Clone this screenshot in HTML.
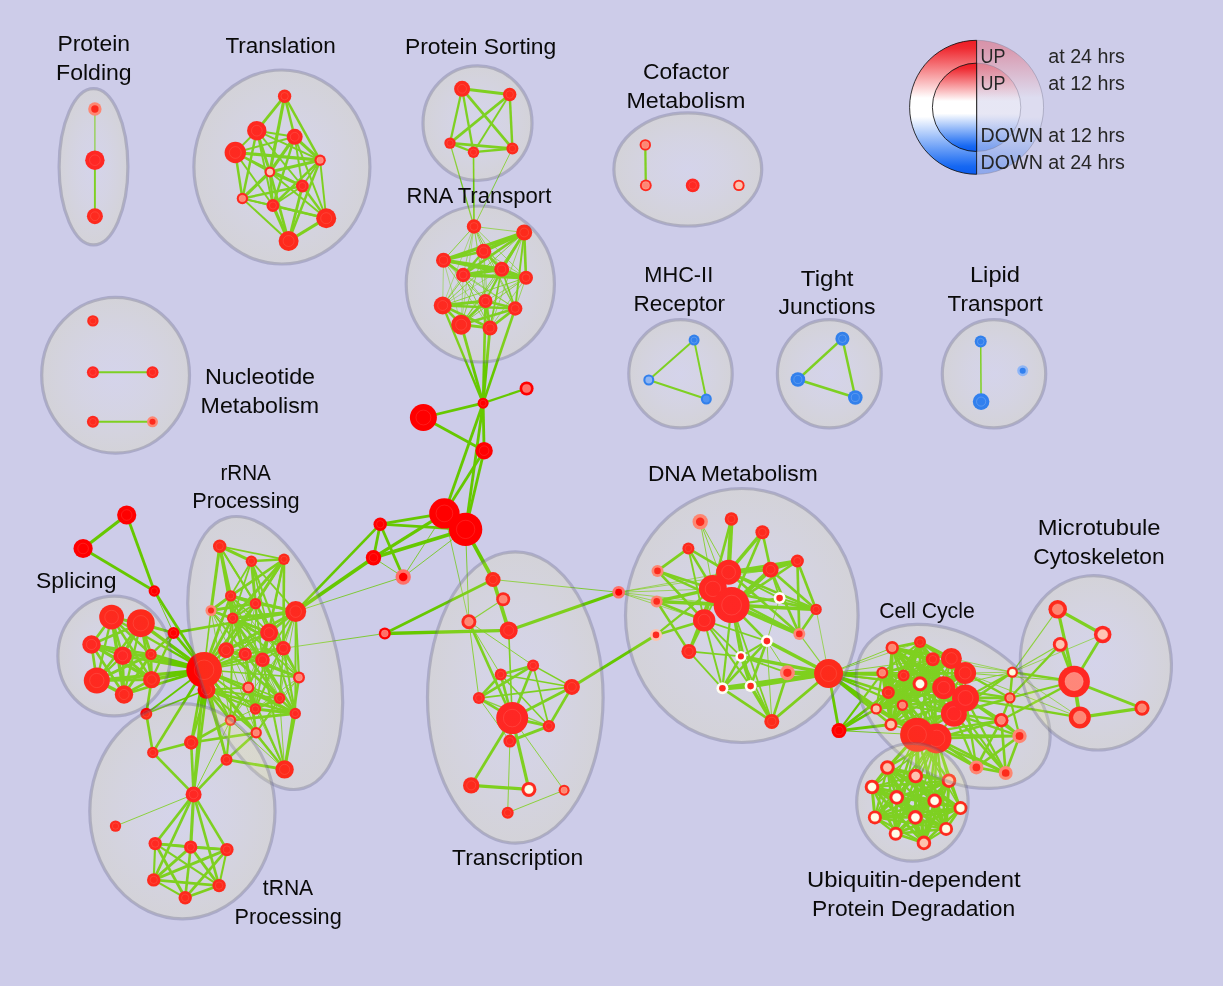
<!DOCTYPE html>
<html><head><meta charset="utf-8"><title>Enrichment map</title>
<style>html,body{margin:0;padding:0;background:#fff;}svg{display:block;font-family:"Liberation Sans",sans-serif;}</style></head><body>
<svg width="1223" height="989" viewBox="0 0 1223 989">
<defs>
<radialGradient id="eg" cx="50%" cy="50%" r="50%"><stop offset="0" stop-color="#fffff4" stop-opacity="0.15"/><stop offset="0.5" stop-color="#fafac8" stop-opacity="0.165"/><stop offset="1" stop-color="#f0f08c" stop-opacity="0.18"/></radialGradient>
<linearGradient id="lg" x1="0" y1="0" x2="0" y2="1"><stop offset="0" stop-color="#ee1c24"/><stop offset="0.06" stop-color="#ef2a31"/><stop offset="0.43" stop-color="#ffffff"/><stop offset="0.57" stop-color="#ffffff"/><stop offset="0.94" stop-color="#1668f2"/><stop offset="1" stop-color="#0a5cf0"/></linearGradient>
</defs>
<rect x="0" y="0" width="1223" height="986" fill="#cdcce9"/>
<g stroke="#66c800" stroke-linecap="butt" fill="none">
<line x1="94.9" y1="109.0" x2="94.9" y2="160.2" stroke-width="1.2" stroke-opacity="0.85"/>
<line x1="94.9" y1="160.2" x2="94.9" y2="216.2" stroke-width="1.94"/>
<line x1="284.6" y1="96.2" x2="256.8" y2="130.7" stroke-width="2.82"/>
<line x1="284.6" y1="96.2" x2="294.7" y2="136.8" stroke-width="2.46"/>
<line x1="284.6" y1="96.2" x2="269.9" y2="172.0" stroke-width="3.17"/>
<line x1="256.8" y1="130.7" x2="294.7" y2="136.8" stroke-width="1.94"/>
<line x1="256.8" y1="130.7" x2="235.3" y2="152.5" stroke-width="1.94"/>
<line x1="256.8" y1="130.7" x2="320.1" y2="160.2" stroke-width="1.94"/>
<line x1="256.8" y1="130.7" x2="269.9" y2="172.0" stroke-width="2.82"/>
<line x1="256.8" y1="130.7" x2="302.4" y2="186.0" stroke-width="1.94"/>
<line x1="256.8" y1="130.7" x2="242.4" y2="198.5" stroke-width="2.46"/>
<line x1="256.8" y1="130.7" x2="272.9" y2="205.5" stroke-width="1.94"/>
<line x1="294.7" y1="136.8" x2="235.3" y2="152.5" stroke-width="1.94"/>
<line x1="294.7" y1="136.8" x2="320.1" y2="160.2" stroke-width="3.17"/>
<line x1="294.7" y1="136.8" x2="269.9" y2="172.0" stroke-width="3.17"/>
<line x1="294.7" y1="136.8" x2="302.4" y2="186.0" stroke-width="1.94"/>
<line x1="294.7" y1="136.8" x2="272.9" y2="205.5" stroke-width="2.46"/>
<line x1="294.7" y1="136.8" x2="326.2" y2="218.2" stroke-width="1.94"/>
<line x1="235.3" y1="152.5" x2="320.1" y2="160.2" stroke-width="3.17"/>
<line x1="235.3" y1="152.5" x2="269.9" y2="172.0" stroke-width="1.94"/>
<line x1="235.3" y1="152.5" x2="302.4" y2="186.0" stroke-width="1.94"/>
<line x1="235.3" y1="152.5" x2="242.4" y2="198.5" stroke-width="2.46"/>
<line x1="235.3" y1="152.5" x2="272.9" y2="205.5" stroke-width="1.94"/>
<line x1="320.1" y1="160.2" x2="269.9" y2="172.0" stroke-width="3.17"/>
<line x1="320.1" y1="160.2" x2="302.4" y2="186.0" stroke-width="1.94"/>
<line x1="320.1" y1="160.2" x2="272.9" y2="205.5" stroke-width="2.46"/>
<line x1="320.1" y1="160.2" x2="326.2" y2="218.2" stroke-width="1.94"/>
<line x1="320.1" y1="160.2" x2="288.6" y2="241.0" stroke-width="2.46"/>
<line x1="269.9" y1="172.0" x2="302.4" y2="186.0" stroke-width="2.82"/>
<line x1="269.9" y1="172.0" x2="242.4" y2="198.5" stroke-width="3.17"/>
<line x1="269.9" y1="172.0" x2="272.9" y2="205.5" stroke-width="2.46"/>
<line x1="269.9" y1="172.0" x2="326.2" y2="218.2" stroke-width="1.94"/>
<line x1="269.9" y1="172.0" x2="288.6" y2="241.0" stroke-width="2.82"/>
<line x1="302.4" y1="186.0" x2="242.4" y2="198.5" stroke-width="2.46"/>
<line x1="302.4" y1="186.0" x2="272.9" y2="205.5" stroke-width="1.94"/>
<line x1="302.4" y1="186.0" x2="326.2" y2="218.2" stroke-width="2.46"/>
<line x1="302.4" y1="186.0" x2="288.6" y2="241.0" stroke-width="2.82"/>
<line x1="242.4" y1="198.5" x2="272.9" y2="205.5" stroke-width="1.94"/>
<line x1="242.4" y1="198.5" x2="326.2" y2="218.2" stroke-width="1.94"/>
<line x1="242.4" y1="198.5" x2="288.6" y2="241.0" stroke-width="1.94"/>
<line x1="272.9" y1="205.5" x2="326.2" y2="218.2" stroke-width="2.46"/>
<line x1="272.9" y1="205.5" x2="288.6" y2="241.0" stroke-width="3.17"/>
<line x1="326.2" y1="218.2" x2="288.6" y2="241.0" stroke-width="3.17"/>
<line x1="284.6" y1="96.2" x2="320.1" y2="160.2" stroke-width="2.46"/>
<line x1="462.1" y1="88.8" x2="509.7" y2="94.5" stroke-width="3.08"/>
<line x1="462.1" y1="88.8" x2="450.0" y2="143.1" stroke-width="2.29"/>
<line x1="462.1" y1="88.8" x2="473.5" y2="152.2" stroke-width="2.29"/>
<line x1="462.1" y1="88.8" x2="512.4" y2="148.5" stroke-width="2.82"/>
<line x1="509.7" y1="94.5" x2="450.0" y2="143.1" stroke-width="2.82"/>
<line x1="509.7" y1="94.5" x2="473.5" y2="152.2" stroke-width="1.94"/>
<line x1="509.7" y1="94.5" x2="512.4" y2="148.5" stroke-width="2.46"/>
<line x1="450.0" y1="143.1" x2="473.5" y2="152.2" stroke-width="2.29"/>
<line x1="450.0" y1="143.1" x2="512.4" y2="148.5" stroke-width="2.82"/>
<line x1="473.5" y1="152.2" x2="512.4" y2="148.5" stroke-width="2.29"/>
<line x1="450.0" y1="143.1" x2="474.0" y2="226.5" stroke-width="1.3" stroke-opacity="0.85"/>
<line x1="473.5" y1="152.2" x2="474.0" y2="226.5" stroke-width="1.6"/>
<line x1="512.4" y1="148.5" x2="474.0" y2="226.5" stroke-width="0.9" stroke-opacity="0.85"/>
<line x1="645.3" y1="144.9" x2="645.8" y2="185.4" stroke-width="2.29"/>
<line x1="474.0" y1="226.5" x2="524.2" y2="232.5" stroke-width="0.8" stroke-opacity="0.85"/>
<line x1="474.0" y1="226.5" x2="483.7" y2="251.2" stroke-width="0.8" stroke-opacity="0.85"/>
<line x1="474.0" y1="226.5" x2="443.5" y2="260.2" stroke-width="1.0" stroke-opacity="0.85"/>
<line x1="474.0" y1="226.5" x2="463.2" y2="275.0" stroke-width="0.8" stroke-opacity="0.85"/>
<line x1="474.0" y1="226.5" x2="501.7" y2="269.2" stroke-width="0.8" stroke-opacity="0.85"/>
<line x1="474.0" y1="226.5" x2="526.0" y2="277.7" stroke-width="0.8" stroke-opacity="0.85"/>
<line x1="474.0" y1="226.5" x2="442.7" y2="305.5" stroke-width="0.6" stroke-opacity="0.85"/>
<line x1="474.0" y1="226.5" x2="485.5" y2="301.0" stroke-width="0.6" stroke-opacity="0.85"/>
<line x1="474.0" y1="226.5" x2="515.2" y2="308.5" stroke-width="1.0" stroke-opacity="0.85"/>
<line x1="474.0" y1="226.5" x2="461.2" y2="324.7" stroke-width="0.6" stroke-opacity="0.85"/>
<line x1="474.0" y1="226.5" x2="490.0" y2="328.0" stroke-width="0.6" stroke-opacity="0.85"/>
<line x1="524.2" y1="232.5" x2="483.7" y2="251.2" stroke-width="3.52"/>
<line x1="524.2" y1="232.5" x2="443.5" y2="260.2" stroke-width="3.52"/>
<line x1="524.2" y1="232.5" x2="463.2" y2="275.0" stroke-width="2.64"/>
<line x1="524.2" y1="232.5" x2="501.7" y2="269.2" stroke-width="2.82"/>
<line x1="524.2" y1="232.5" x2="526.0" y2="277.7" stroke-width="2.64"/>
<line x1="524.2" y1="232.5" x2="442.7" y2="305.5" stroke-width="1.0" stroke-opacity="0.85"/>
<line x1="524.2" y1="232.5" x2="485.5" y2="301.0" stroke-width="0.8" stroke-opacity="0.85"/>
<line x1="524.2" y1="232.5" x2="515.2" y2="308.5" stroke-width="1.94"/>
<line x1="524.2" y1="232.5" x2="461.2" y2="324.7" stroke-width="1.0" stroke-opacity="0.85"/>
<line x1="524.2" y1="232.5" x2="490.0" y2="328.0" stroke-width="0.8" stroke-opacity="0.85"/>
<line x1="483.7" y1="251.2" x2="443.5" y2="260.2" stroke-width="2.64"/>
<line x1="483.7" y1="251.2" x2="463.2" y2="275.0" stroke-width="2.2"/>
<line x1="483.7" y1="251.2" x2="501.7" y2="269.2" stroke-width="2.64"/>
<line x1="483.7" y1="251.2" x2="526.0" y2="277.7" stroke-width="0.8" stroke-opacity="0.85"/>
<line x1="483.7" y1="251.2" x2="442.7" y2="305.5" stroke-width="1.0" stroke-opacity="0.85"/>
<line x1="483.7" y1="251.2" x2="485.5" y2="301.0" stroke-width="0.8" stroke-opacity="0.85"/>
<line x1="483.7" y1="251.2" x2="515.2" y2="308.5" stroke-width="0.8" stroke-opacity="0.85"/>
<line x1="483.7" y1="251.2" x2="461.2" y2="324.7" stroke-width="1.0" stroke-opacity="0.85"/>
<line x1="483.7" y1="251.2" x2="490.0" y2="328.0" stroke-width="0.6" stroke-opacity="0.85"/>
<line x1="443.5" y1="260.2" x2="463.2" y2="275.0" stroke-width="2.64"/>
<line x1="443.5" y1="260.2" x2="501.7" y2="269.2" stroke-width="3.52"/>
<line x1="443.5" y1="260.2" x2="526.0" y2="277.7" stroke-width="2.82"/>
<line x1="443.5" y1="260.2" x2="442.7" y2="305.5" stroke-width="0.6" stroke-opacity="0.85"/>
<line x1="443.5" y1="260.2" x2="485.5" y2="301.0" stroke-width="1.0" stroke-opacity="0.85"/>
<line x1="443.5" y1="260.2" x2="515.2" y2="308.5" stroke-width="0.8" stroke-opacity="0.85"/>
<line x1="443.5" y1="260.2" x2="461.2" y2="324.7" stroke-width="0.6" stroke-opacity="0.85"/>
<line x1="443.5" y1="260.2" x2="490.0" y2="328.0" stroke-width="0.8" stroke-opacity="0.85"/>
<line x1="463.2" y1="275.0" x2="501.7" y2="269.2" stroke-width="3.52"/>
<line x1="463.2" y1="275.0" x2="526.0" y2="277.7" stroke-width="3.52"/>
<line x1="463.2" y1="275.0" x2="442.7" y2="305.5" stroke-width="0.6" stroke-opacity="0.85"/>
<line x1="463.2" y1="275.0" x2="485.5" y2="301.0" stroke-width="0.8" stroke-opacity="0.85"/>
<line x1="463.2" y1="275.0" x2="515.2" y2="308.5" stroke-width="0.8" stroke-opacity="0.85"/>
<line x1="463.2" y1="275.0" x2="461.2" y2="324.7" stroke-width="0.6" stroke-opacity="0.85"/>
<line x1="463.2" y1="275.0" x2="490.0" y2="328.0" stroke-width="1.0" stroke-opacity="0.85"/>
<line x1="501.7" y1="269.2" x2="526.0" y2="277.7" stroke-width="2.64"/>
<line x1="501.7" y1="269.2" x2="442.7" y2="305.5" stroke-width="0.6" stroke-opacity="0.85"/>
<line x1="501.7" y1="269.2" x2="485.5" y2="301.0" stroke-width="1.94"/>
<line x1="501.7" y1="269.2" x2="515.2" y2="308.5" stroke-width="1.76"/>
<line x1="501.7" y1="269.2" x2="461.2" y2="324.7" stroke-width="1.0" stroke-opacity="0.85"/>
<line x1="501.7" y1="269.2" x2="490.0" y2="328.0" stroke-width="1.76"/>
<line x1="526.0" y1="277.7" x2="442.7" y2="305.5" stroke-width="1.0" stroke-opacity="0.85"/>
<line x1="526.0" y1="277.7" x2="485.5" y2="301.0" stroke-width="0.8" stroke-opacity="0.85"/>
<line x1="526.0" y1="277.7" x2="515.2" y2="308.5" stroke-width="0.8" stroke-opacity="0.85"/>
<line x1="526.0" y1="277.7" x2="461.2" y2="324.7" stroke-width="1.0" stroke-opacity="0.85"/>
<line x1="526.0" y1="277.7" x2="490.0" y2="328.0" stroke-width="0.8" stroke-opacity="0.85"/>
<line x1="442.7" y1="305.5" x2="485.5" y2="301.0" stroke-width="2.82"/>
<line x1="442.7" y1="305.5" x2="515.2" y2="308.5" stroke-width="2.64"/>
<line x1="442.7" y1="305.5" x2="461.2" y2="324.7" stroke-width="2.64"/>
<line x1="442.7" y1="305.5" x2="490.0" y2="328.0" stroke-width="2.64"/>
<line x1="485.5" y1="301.0" x2="515.2" y2="308.5" stroke-width="2.64"/>
<line x1="485.5" y1="301.0" x2="461.2" y2="324.7" stroke-width="2.64"/>
<line x1="485.5" y1="301.0" x2="490.0" y2="328.0" stroke-width="2.82"/>
<line x1="515.2" y1="308.5" x2="461.2" y2="324.7" stroke-width="2.64"/>
<line x1="515.2" y1="308.5" x2="490.0" y2="328.0" stroke-width="2.64"/>
<line x1="461.2" y1="324.7" x2="490.0" y2="328.0" stroke-width="2.82"/>
<line x1="483.1" y1="403.2" x2="442.7" y2="305.5" stroke-width="2.29"/>
<line x1="483.1" y1="403.2" x2="461.2" y2="324.7" stroke-width="2.82"/>
<line x1="483.1" y1="403.2" x2="490.0" y2="328.0" stroke-width="2.82"/>
<line x1="483.1" y1="403.2" x2="485.5" y2="301.0" stroke-width="2.64"/>
<line x1="483.1" y1="403.2" x2="515.2" y2="308.5" stroke-width="2.64"/>
<line x1="483.1" y1="403.2" x2="526.6" y2="388.5" stroke-width="2.29"/>
<line x1="483.1" y1="403.2" x2="423.4" y2="417.5" stroke-width="2.82"/>
<line x1="483.1" y1="403.2" x2="484.1" y2="450.7" stroke-width="2.82"/>
<line x1="483.1" y1="403.2" x2="444.4" y2="513.4" stroke-width="2.82"/>
<line x1="483.1" y1="403.2" x2="465.6" y2="529.4" stroke-width="2.82"/>
<line x1="423.4" y1="417.5" x2="484.1" y2="450.7" stroke-width="2.82"/>
<line x1="484.1" y1="450.7" x2="444.4" y2="513.4" stroke-width="2.82"/>
<line x1="484.1" y1="450.7" x2="465.6" y2="529.4" stroke-width="2.82"/>
<line x1="444.4" y1="513.4" x2="380.2" y2="524.2" stroke-width="2.82"/>
<line x1="465.6" y1="529.4" x2="380.2" y2="524.2" stroke-width="2.82"/>
<line x1="444.4" y1="513.4" x2="373.5" y2="557.7" stroke-width="3.17"/>
<line x1="465.6" y1="529.4" x2="373.5" y2="557.7" stroke-width="3.7"/>
<line x1="380.2" y1="524.2" x2="373.5" y2="557.7" stroke-width="2.82"/>
<line x1="380.2" y1="524.2" x2="403.2" y2="577.0" stroke-width="2.82"/>
<line x1="373.5" y1="557.7" x2="403.2" y2="577.0" stroke-width="0.9" stroke-opacity="0.85"/>
<line x1="403.2" y1="577.0" x2="444.4" y2="513.4" stroke-width="0.9" stroke-opacity="0.85"/>
<line x1="403.2" y1="577.0" x2="465.6" y2="529.4" stroke-width="0.9" stroke-opacity="0.85"/>
<line x1="380.2" y1="524.2" x2="295.7" y2="611.6" stroke-width="2.64"/>
<line x1="373.5" y1="557.7" x2="295.7" y2="611.6" stroke-width="3.7"/>
<line x1="403.2" y1="577.0" x2="295.7" y2="611.6" stroke-width="0.9" stroke-opacity="0.85"/>
<line x1="384.8" y1="633.5" x2="283.4" y2="648.3" stroke-width="0.9" stroke-opacity="0.85"/>
<line x1="384.8" y1="633.5" x2="493.0" y2="579.5" stroke-width="2.64"/>
<line x1="384.8" y1="633.5" x2="508.7" y2="630.4" stroke-width="3.34"/>
<line x1="465.6" y1="529.4" x2="493.0" y2="579.5" stroke-width="3.7"/>
<line x1="493.0" y1="579.5" x2="508.7" y2="630.4" stroke-width="3.7"/>
<line x1="465.6" y1="529.4" x2="468.9" y2="621.7" stroke-width="0.9" stroke-opacity="0.85"/>
<line x1="444.4" y1="513.4" x2="468.9" y2="621.7" stroke-width="0.8" stroke-opacity="0.85"/>
<line x1="493.0" y1="579.5" x2="618.7" y2="592.3" stroke-width="0.9" stroke-opacity="0.85"/>
<line x1="508.7" y1="630.4" x2="618.7" y2="592.3" stroke-width="3.17"/>
<line x1="503.2" y1="599.3" x2="468.9" y2="621.7" stroke-width="1.1" stroke-opacity="0.85"/>
<line x1="468.9" y1="621.7" x2="512.2" y2="718.1" stroke-width="2.64"/>
<line x1="468.9" y1="621.7" x2="478.9" y2="698.1" stroke-width="1" stroke-opacity="0.85"/>
<line x1="468.9" y1="621.7" x2="533.1" y2="665.4" stroke-width="1" stroke-opacity="0.85"/>
<line x1="468.9" y1="621.7" x2="500.7" y2="674.6" stroke-width="1" stroke-opacity="0.85"/>
<line x1="508.7" y1="630.4" x2="512.2" y2="718.1" stroke-width="1.6"/>
<line x1="533.1" y1="665.4" x2="500.7" y2="674.6" stroke-width="2.64"/>
<line x1="533.1" y1="665.4" x2="478.9" y2="698.1" stroke-width="2.64"/>
<line x1="533.1" y1="665.4" x2="512.2" y2="718.1" stroke-width="2.64"/>
<line x1="533.1" y1="665.4" x2="571.9" y2="686.9" stroke-width="1.6"/>
<line x1="533.1" y1="665.4" x2="548.9" y2="726.1" stroke-width="1.76"/>
<line x1="500.7" y1="674.6" x2="478.9" y2="698.1" stroke-width="2.64"/>
<line x1="500.7" y1="674.6" x2="512.2" y2="718.1" stroke-width="2.64"/>
<line x1="500.7" y1="674.6" x2="571.9" y2="686.9" stroke-width="1.5"/>
<line x1="500.7" y1="674.6" x2="548.9" y2="726.1" stroke-width="1.5"/>
<line x1="571.9" y1="686.9" x2="478.9" y2="698.1" stroke-width="1.76"/>
<line x1="571.9" y1="686.9" x2="512.2" y2="718.1" stroke-width="2.82"/>
<line x1="571.9" y1="686.9" x2="548.9" y2="726.1" stroke-width="2.82"/>
<line x1="478.9" y1="698.1" x2="512.2" y2="718.1" stroke-width="2.64"/>
<line x1="478.9" y1="698.1" x2="548.9" y2="726.1" stroke-width="1.3" stroke-opacity="0.85"/>
<line x1="512.2" y1="718.1" x2="548.9" y2="726.1" stroke-width="2.82"/>
<line x1="512.2" y1="718.1" x2="509.9" y2="741.1" stroke-width="2.64"/>
<line x1="548.9" y1="726.1" x2="509.9" y2="741.1" stroke-width="2.99"/>
<line x1="478.9" y1="698.1" x2="509.9" y2="741.1" stroke-width="1" stroke-opacity="0.85"/>
<line x1="571.9" y1="686.9" x2="656.0" y2="634.9" stroke-width="2.99"/>
<line x1="512.2" y1="718.1" x2="471.2" y2="785.4" stroke-width="2.82"/>
<line x1="509.9" y1="741.1" x2="507.7" y2="812.7" stroke-width="1" stroke-opacity="0.85"/>
<line x1="507.7" y1="812.7" x2="564.1" y2="790.2" stroke-width="1" stroke-opacity="0.85"/>
<line x1="512.2" y1="718.1" x2="564.1" y2="790.2" stroke-width="1" stroke-opacity="0.85"/>
<line x1="512.2" y1="718.1" x2="528.9" y2="789.4" stroke-width="3.17"/>
<line x1="471.2" y1="785.4" x2="528.9" y2="789.4" stroke-width="3.17"/>
<line x1="618.7" y1="592.3" x2="656.7" y2="601.4" stroke-width="0.8" stroke-opacity="0.85"/>
<line x1="618.7" y1="592.3" x2="712.9" y2="588.9" stroke-width="0.8" stroke-opacity="0.85"/>
<line x1="618.7" y1="592.3" x2="728.6" y2="572.2" stroke-width="0.8" stroke-opacity="0.85"/>
<line x1="618.7" y1="592.3" x2="731.6" y2="605.1" stroke-width="0.8" stroke-opacity="0.85"/>
<line x1="618.7" y1="592.3" x2="704.2" y2="620.4" stroke-width="0.8" stroke-opacity="0.85"/>
<line x1="618.7" y1="592.3" x2="770.6" y2="569.7" stroke-width="0.8" stroke-opacity="0.85"/>
<line x1="731.4" y1="519.0" x2="728.6" y2="572.2" stroke-width="4.4"/>
<line x1="762.4" y1="532.2" x2="728.6" y2="572.2" stroke-width="3.52"/>
<line x1="762.4" y1="532.2" x2="770.6" y2="569.7" stroke-width="2.64"/>
<line x1="797.4" y1="561.0" x2="770.6" y2="569.7" stroke-width="3.52"/>
<line x1="797.4" y1="561.0" x2="728.6" y2="572.2" stroke-width="3.52"/>
<line x1="770.6" y1="569.7" x2="728.6" y2="572.2" stroke-width="3.52"/>
<line x1="770.6" y1="569.7" x2="731.6" y2="605.1" stroke-width="4.4"/>
<line x1="797.4" y1="561.0" x2="816.1" y2="609.4" stroke-width="2.64"/>
<line x1="797.4" y1="561.0" x2="799.3" y2="633.9" stroke-width="2.64"/>
<line x1="770.6" y1="569.7" x2="816.1" y2="609.4" stroke-width="2.64"/>
<line x1="770.6" y1="569.7" x2="799.3" y2="633.9" stroke-width="2.64"/>
<line x1="731.6" y1="605.1" x2="816.1" y2="609.4" stroke-width="3.52"/>
<line x1="731.6" y1="605.1" x2="799.3" y2="633.9" stroke-width="4.4"/>
<line x1="712.9" y1="588.9" x2="816.1" y2="609.4" stroke-width="2.64"/>
<line x1="779.6" y1="598.1" x2="816.1" y2="609.4" stroke-width="1.76"/>
<line x1="688.4" y1="548.4" x2="728.6" y2="572.2" stroke-width="2.64"/>
<line x1="688.4" y1="548.4" x2="712.9" y2="588.9" stroke-width="2.64"/>
<line x1="688.4" y1="548.4" x2="657.5" y2="570.9" stroke-width="2.82"/>
<line x1="688.4" y1="548.4" x2="704.2" y2="620.4" stroke-width="1.94"/>
<line x1="657.5" y1="570.9" x2="712.9" y2="588.9" stroke-width="2.64"/>
<line x1="657.5" y1="570.9" x2="731.6" y2="605.1" stroke-width="2.64"/>
<line x1="657.5" y1="570.9" x2="704.2" y2="620.4" stroke-width="2.64"/>
<line x1="656.7" y1="601.4" x2="712.9" y2="588.9" stroke-width="3.52"/>
<line x1="656.7" y1="601.4" x2="731.6" y2="605.1" stroke-width="3.52"/>
<line x1="656.7" y1="601.4" x2="704.2" y2="620.4" stroke-width="2.64"/>
<line x1="656.7" y1="601.4" x2="688.9" y2="651.4" stroke-width="2.64"/>
<line x1="656.0" y1="634.9" x2="704.2" y2="620.4" stroke-width="2.64"/>
<line x1="656.0" y1="634.9" x2="712.9" y2="588.9" stroke-width="2.11"/>
<line x1="704.2" y1="620.4" x2="688.9" y2="651.4" stroke-width="2.82"/>
<line x1="731.6" y1="605.1" x2="766.9" y2="641.1" stroke-width="2.64"/>
<line x1="731.6" y1="605.1" x2="740.9" y2="656.4" stroke-width="2.2"/>
<line x1="700.2" y1="521.7" x2="728.6" y2="572.2" stroke-width="1" stroke-opacity="0.85"/>
<line x1="700.2" y1="521.7" x2="712.9" y2="588.9" stroke-width="1" stroke-opacity="0.85"/>
<line x1="700.2" y1="521.7" x2="731.6" y2="605.1" stroke-width="1" stroke-opacity="0.85"/>
<line x1="828.6" y1="673.5" x2="787.4" y2="672.8" stroke-width="4.4"/>
<line x1="828.6" y1="673.5" x2="766.9" y2="641.1" stroke-width="3.52"/>
<line x1="828.6" y1="673.5" x2="740.9" y2="656.4" stroke-width="3.52"/>
<line x1="828.6" y1="673.5" x2="750.6" y2="686.1" stroke-width="4.4"/>
<line x1="828.6" y1="673.5" x2="722.4" y2="688.3" stroke-width="4.4"/>
<line x1="828.6" y1="673.5" x2="799.3" y2="633.9" stroke-width="1.2" stroke-opacity="0.85"/>
<line x1="828.6" y1="673.5" x2="816.1" y2="609.4" stroke-width="0.8" stroke-opacity="0.85"/>
<line x1="828.6" y1="673.5" x2="771.8" y2="721.4" stroke-width="2.82"/>
<line x1="828.6" y1="673.5" x2="839.0" y2="730.6" stroke-width="2.82"/>
<line x1="722.4" y1="688.3" x2="750.6" y2="686.1" stroke-width="4.4"/>
<line x1="722.4" y1="688.3" x2="740.9" y2="656.4" stroke-width="2.64"/>
<line x1="722.4" y1="688.3" x2="766.9" y2="641.1" stroke-width="2.64"/>
<line x1="750.6" y1="686.1" x2="740.9" y2="656.4" stroke-width="2.64"/>
<line x1="750.6" y1="686.1" x2="766.9" y2="641.1" stroke-width="2.64"/>
<line x1="750.6" y1="686.1" x2="771.8" y2="721.4" stroke-width="3.52"/>
<line x1="722.4" y1="688.3" x2="771.8" y2="721.4" stroke-width="2.64"/>
<line x1="787.4" y1="672.8" x2="771.8" y2="721.4" stroke-width="2.64"/>
<line x1="688.9" y1="651.4" x2="722.4" y2="688.3" stroke-width="1.76"/>
<line x1="688.9" y1="651.4" x2="740.9" y2="656.4" stroke-width="1.76"/>
<line x1="704.2" y1="620.4" x2="722.4" y2="688.3" stroke-width="1.94"/>
<line x1="704.2" y1="620.4" x2="750.6" y2="686.1" stroke-width="1.94"/>
<line x1="704.2" y1="620.4" x2="740.9" y2="656.4" stroke-width="1.76"/>
<line x1="731.6" y1="605.1" x2="722.4" y2="688.3" stroke-width="2.2"/>
<line x1="731.6" y1="605.1" x2="750.6" y2="686.1" stroke-width="2.64"/>
<line x1="731.6" y1="605.1" x2="771.8" y2="721.4" stroke-width="1.76"/>
<line x1="728.6" y1="572.2" x2="816.1" y2="609.4" stroke-width="2.64"/>
<line x1="728.6" y1="572.2" x2="799.3" y2="633.9" stroke-width="2.64"/>
<line x1="712.9" y1="588.9" x2="799.3" y2="633.9" stroke-width="2.64"/>
<line x1="728.6" y1="572.2" x2="779.6" y2="598.1" stroke-width="1.76"/>
<line x1="731.6" y1="605.1" x2="779.6" y2="598.1" stroke-width="2.2"/>
<line x1="731.4" y1="519.0" x2="712.9" y2="588.9" stroke-width="2.64"/>
<line x1="762.4" y1="532.2" x2="731.6" y2="605.1" stroke-width="2.64"/>
<line x1="797.4" y1="561.0" x2="731.6" y2="605.1" stroke-width="2.64"/>
<line x1="712.9" y1="588.9" x2="688.9" y2="651.4" stroke-width="2.64"/>
<line x1="704.2" y1="620.4" x2="766.9" y2="641.1" stroke-width="1.76"/>
<line x1="779.6" y1="598.1" x2="766.9" y2="641.1" stroke-width="1" stroke-opacity="0.85"/>
<line x1="766.9" y1="641.1" x2="740.9" y2="656.4" stroke-width="2.2"/>
<line x1="740.9" y1="656.4" x2="787.4" y2="672.8" stroke-width="1.76"/>
<line x1="766.9" y1="641.1" x2="771.8" y2="721.4" stroke-width="1" stroke-opacity="0.85"/>
<line x1="740.9" y1="656.4" x2="771.8" y2="721.4" stroke-width="1.76"/>
<line x1="799.3" y1="633.9" x2="816.1" y2="609.4" stroke-width="2.64"/>
<line x1="770.6" y1="569.7" x2="779.6" y2="598.1" stroke-width="1.76"/>
<line x1="712.9" y1="588.9" x2="704.2" y2="620.4" stroke-width="2.64"/>
<line x1="728.6" y1="572.2" x2="704.2" y2="620.4" stroke-width="1.76"/>
<line x1="766.9" y1="641.1" x2="787.4" y2="672.8" stroke-width="1" stroke-opacity="0.85"/>
<line x1="828.6" y1="673.5" x2="892.2" y2="647.8" stroke-width="1" stroke-opacity="0.85"/>
<line x1="828.6" y1="673.5" x2="920.0" y2="642.1" stroke-width="0.8" stroke-opacity="0.85"/>
<line x1="828.6" y1="673.5" x2="882.3" y2="672.8" stroke-width="2.64"/>
<line x1="828.6" y1="673.5" x2="903.6" y2="675.4" stroke-width="2.64"/>
<line x1="828.6" y1="673.5" x2="888.3" y2="692.4" stroke-width="2.64"/>
<line x1="828.6" y1="673.5" x2="902.4" y2="705.3" stroke-width="2.2"/>
<line x1="828.6" y1="673.5" x2="876.2" y2="708.9" stroke-width="2.64"/>
<line x1="828.6" y1="673.5" x2="890.9" y2="724.5" stroke-width="2.64"/>
<line x1="828.6" y1="673.5" x2="932.8" y2="659.3" stroke-width="1" stroke-opacity="0.85"/>
<line x1="828.6" y1="673.5" x2="920.0" y2="683.8" stroke-width="2.2"/>
<line x1="828.6" y1="673.5" x2="943.7" y2="687.7" stroke-width="1.76"/>
<line x1="828.6" y1="673.5" x2="917.1" y2="734.7" stroke-width="2.64"/>
<line x1="839.0" y1="730.6" x2="876.2" y2="708.9" stroke-width="2.64"/>
<line x1="839.0" y1="730.6" x2="890.9" y2="724.5" stroke-width="2.82"/>
<line x1="839.0" y1="730.6" x2="917.1" y2="734.7" stroke-width="1" stroke-opacity="0.85"/>
<line x1="839.0" y1="730.6" x2="888.3" y2="692.4" stroke-width="2.64"/>
<line x1="839.0" y1="730.6" x2="882.3" y2="672.8" stroke-width="2.2"/>
<line x1="892.2" y1="647.8" x2="920.0" y2="642.1" stroke-width="2.82"/>
<line x1="892.2" y1="647.8" x2="932.8" y2="659.3" stroke-width="2.46"/>
<line x1="892.2" y1="647.8" x2="951.4" y2="658.4" stroke-width="2.82"/>
<line x1="892.2" y1="647.8" x2="965.1" y2="673.0" stroke-width="2.46"/>
<line x1="892.2" y1="647.8" x2="920.0" y2="683.8" stroke-width="2.11"/>
<line x1="892.2" y1="647.8" x2="943.7" y2="687.7" stroke-width="2.46"/>
<line x1="892.2" y1="647.8" x2="965.5" y2="697.9" stroke-width="2.99"/>
<line x1="892.2" y1="647.8" x2="888.3" y2="692.4" stroke-width="2.99"/>
<line x1="892.2" y1="647.8" x2="953.9" y2="713.8" stroke-width="2.99"/>
<line x1="892.2" y1="647.8" x2="890.9" y2="724.5" stroke-width="2.99"/>
<line x1="892.2" y1="647.8" x2="917.1" y2="734.7" stroke-width="2.11"/>
<line x1="892.2" y1="647.8" x2="936.5" y2="738.4" stroke-width="2.99"/>
<line x1="920.0" y1="642.1" x2="932.8" y2="659.3" stroke-width="2.82"/>
<line x1="920.0" y1="642.1" x2="951.4" y2="658.4" stroke-width="2.99"/>
<line x1="920.0" y1="642.1" x2="965.1" y2="673.0" stroke-width="2.46"/>
<line x1="920.0" y1="642.1" x2="882.3" y2="672.8" stroke-width="2.11"/>
<line x1="920.0" y1="642.1" x2="903.6" y2="675.4" stroke-width="2.99"/>
<line x1="920.0" y1="642.1" x2="920.0" y2="683.8" stroke-width="2.46"/>
<line x1="920.0" y1="642.1" x2="943.7" y2="687.7" stroke-width="2.99"/>
<line x1="920.0" y1="642.1" x2="965.5" y2="697.9" stroke-width="2.11"/>
<line x1="920.0" y1="642.1" x2="902.4" y2="705.3" stroke-width="2.46"/>
<line x1="920.0" y1="642.1" x2="876.2" y2="708.9" stroke-width="2.11"/>
<line x1="920.0" y1="642.1" x2="953.9" y2="713.8" stroke-width="1.8"/>
<line x1="920.0" y1="642.1" x2="890.9" y2="724.5" stroke-width="2.82"/>
<line x1="920.0" y1="642.1" x2="936.5" y2="738.4" stroke-width="2.46"/>
<line x1="932.8" y1="659.3" x2="965.1" y2="673.0" stroke-width="1.8"/>
<line x1="932.8" y1="659.3" x2="882.3" y2="672.8" stroke-width="2.11"/>
<line x1="932.8" y1="659.3" x2="903.6" y2="675.4" stroke-width="1.8"/>
<line x1="932.8" y1="659.3" x2="920.0" y2="683.8" stroke-width="2.99"/>
<line x1="932.8" y1="659.3" x2="943.7" y2="687.7" stroke-width="1.8"/>
<line x1="932.8" y1="659.3" x2="965.5" y2="697.9" stroke-width="2.46"/>
<line x1="932.8" y1="659.3" x2="888.3" y2="692.4" stroke-width="2.46"/>
<line x1="932.8" y1="659.3" x2="902.4" y2="705.3" stroke-width="2.46"/>
<line x1="932.8" y1="659.3" x2="953.9" y2="713.8" stroke-width="1.8"/>
<line x1="932.8" y1="659.3" x2="890.9" y2="724.5" stroke-width="2.46"/>
<line x1="932.8" y1="659.3" x2="917.1" y2="734.7" stroke-width="2.46"/>
<line x1="932.8" y1="659.3" x2="936.5" y2="738.4" stroke-width="2.82"/>
<line x1="951.4" y1="658.4" x2="965.1" y2="673.0" stroke-width="2.11"/>
<line x1="951.4" y1="658.4" x2="882.3" y2="672.8" stroke-width="1.8"/>
<line x1="951.4" y1="658.4" x2="903.6" y2="675.4" stroke-width="2.46"/>
<line x1="951.4" y1="658.4" x2="920.0" y2="683.8" stroke-width="2.82"/>
<line x1="951.4" y1="658.4" x2="943.7" y2="687.7" stroke-width="2.11"/>
<line x1="951.4" y1="658.4" x2="965.5" y2="697.9" stroke-width="2.99"/>
<line x1="951.4" y1="658.4" x2="888.3" y2="692.4" stroke-width="2.46"/>
<line x1="951.4" y1="658.4" x2="902.4" y2="705.3" stroke-width="2.11"/>
<line x1="951.4" y1="658.4" x2="876.2" y2="708.9" stroke-width="2.99"/>
<line x1="951.4" y1="658.4" x2="953.9" y2="713.8" stroke-width="2.46"/>
<line x1="951.4" y1="658.4" x2="890.9" y2="724.5" stroke-width="1.8"/>
<line x1="951.4" y1="658.4" x2="917.1" y2="734.7" stroke-width="1.8"/>
<line x1="965.1" y1="673.0" x2="882.3" y2="672.8" stroke-width="1.8"/>
<line x1="965.1" y1="673.0" x2="903.6" y2="675.4" stroke-width="1.8"/>
<line x1="965.1" y1="673.0" x2="920.0" y2="683.8" stroke-width="1.8"/>
<line x1="965.1" y1="673.0" x2="943.7" y2="687.7" stroke-width="2.99"/>
<line x1="965.1" y1="673.0" x2="965.5" y2="697.9" stroke-width="1.8"/>
<line x1="965.1" y1="673.0" x2="902.4" y2="705.3" stroke-width="2.46"/>
<line x1="965.1" y1="673.0" x2="876.2" y2="708.9" stroke-width="2.82"/>
<line x1="965.1" y1="673.0" x2="953.9" y2="713.8" stroke-width="1.8"/>
<line x1="965.1" y1="673.0" x2="890.9" y2="724.5" stroke-width="2.11"/>
<line x1="965.1" y1="673.0" x2="917.1" y2="734.7" stroke-width="2.11"/>
<line x1="882.3" y1="672.8" x2="903.6" y2="675.4" stroke-width="1.8"/>
<line x1="882.3" y1="672.8" x2="920.0" y2="683.8" stroke-width="2.46"/>
<line x1="882.3" y1="672.8" x2="943.7" y2="687.7" stroke-width="2.82"/>
<line x1="882.3" y1="672.8" x2="965.5" y2="697.9" stroke-width="2.11"/>
<line x1="882.3" y1="672.8" x2="888.3" y2="692.4" stroke-width="2.82"/>
<line x1="882.3" y1="672.8" x2="902.4" y2="705.3" stroke-width="2.82"/>
<line x1="882.3" y1="672.8" x2="876.2" y2="708.9" stroke-width="2.11"/>
<line x1="882.3" y1="672.8" x2="953.9" y2="713.8" stroke-width="1.8"/>
<line x1="882.3" y1="672.8" x2="890.9" y2="724.5" stroke-width="2.99"/>
<line x1="882.3" y1="672.8" x2="917.1" y2="734.7" stroke-width="2.82"/>
<line x1="882.3" y1="672.8" x2="936.5" y2="738.4" stroke-width="2.82"/>
<line x1="903.6" y1="675.4" x2="920.0" y2="683.8" stroke-width="2.99"/>
<line x1="903.6" y1="675.4" x2="943.7" y2="687.7" stroke-width="2.99"/>
<line x1="903.6" y1="675.4" x2="965.5" y2="697.9" stroke-width="2.99"/>
<line x1="903.6" y1="675.4" x2="902.4" y2="705.3" stroke-width="2.46"/>
<line x1="903.6" y1="675.4" x2="876.2" y2="708.9" stroke-width="2.99"/>
<line x1="903.6" y1="675.4" x2="953.9" y2="713.8" stroke-width="2.82"/>
<line x1="903.6" y1="675.4" x2="890.9" y2="724.5" stroke-width="2.46"/>
<line x1="903.6" y1="675.4" x2="917.1" y2="734.7" stroke-width="2.46"/>
<line x1="903.6" y1="675.4" x2="936.5" y2="738.4" stroke-width="2.46"/>
<line x1="920.0" y1="683.8" x2="943.7" y2="687.7" stroke-width="2.46"/>
<line x1="920.0" y1="683.8" x2="888.3" y2="692.4" stroke-width="2.46"/>
<line x1="920.0" y1="683.8" x2="902.4" y2="705.3" stroke-width="2.99"/>
<line x1="920.0" y1="683.8" x2="876.2" y2="708.9" stroke-width="2.46"/>
<line x1="920.0" y1="683.8" x2="890.9" y2="724.5" stroke-width="1.8"/>
<line x1="920.0" y1="683.8" x2="936.5" y2="738.4" stroke-width="1.8"/>
<line x1="943.7" y1="687.7" x2="965.5" y2="697.9" stroke-width="2.46"/>
<line x1="943.7" y1="687.7" x2="888.3" y2="692.4" stroke-width="1.8"/>
<line x1="943.7" y1="687.7" x2="876.2" y2="708.9" stroke-width="2.11"/>
<line x1="943.7" y1="687.7" x2="953.9" y2="713.8" stroke-width="2.82"/>
<line x1="965.5" y1="697.9" x2="888.3" y2="692.4" stroke-width="2.82"/>
<line x1="965.5" y1="697.9" x2="902.4" y2="705.3" stroke-width="1.8"/>
<line x1="965.5" y1="697.9" x2="876.2" y2="708.9" stroke-width="2.82"/>
<line x1="965.5" y1="697.9" x2="890.9" y2="724.5" stroke-width="2.11"/>
<line x1="965.5" y1="697.9" x2="917.1" y2="734.7" stroke-width="2.82"/>
<line x1="888.3" y1="692.4" x2="876.2" y2="708.9" stroke-width="1.8"/>
<line x1="888.3" y1="692.4" x2="953.9" y2="713.8" stroke-width="2.82"/>
<line x1="888.3" y1="692.4" x2="890.9" y2="724.5" stroke-width="2.46"/>
<line x1="888.3" y1="692.4" x2="917.1" y2="734.7" stroke-width="1.8"/>
<line x1="888.3" y1="692.4" x2="936.5" y2="738.4" stroke-width="2.99"/>
<line x1="902.4" y1="705.3" x2="876.2" y2="708.9" stroke-width="2.11"/>
<line x1="902.4" y1="705.3" x2="953.9" y2="713.8" stroke-width="2.11"/>
<line x1="902.4" y1="705.3" x2="890.9" y2="724.5" stroke-width="2.82"/>
<line x1="902.4" y1="705.3" x2="917.1" y2="734.7" stroke-width="2.11"/>
<line x1="902.4" y1="705.3" x2="936.5" y2="738.4" stroke-width="2.46"/>
<line x1="876.2" y1="708.9" x2="917.1" y2="734.7" stroke-width="2.46"/>
<line x1="876.2" y1="708.9" x2="936.5" y2="738.4" stroke-width="2.46"/>
<line x1="953.9" y1="713.8" x2="890.9" y2="724.5" stroke-width="2.46"/>
<line x1="953.9" y1="713.8" x2="917.1" y2="734.7" stroke-width="2.46"/>
<line x1="953.9" y1="713.8" x2="936.5" y2="738.4" stroke-width="2.11"/>
<line x1="890.9" y1="724.5" x2="936.5" y2="738.4" stroke-width="1.8"/>
<line x1="1012.4" y1="672.2" x2="951.4" y2="658.4" stroke-width="0.8" stroke-opacity="0.85"/>
<line x1="1012.4" y1="672.2" x2="965.1" y2="673.0" stroke-width="0.8" stroke-opacity="0.85"/>
<line x1="1012.4" y1="672.2" x2="943.7" y2="687.7" stroke-width="1" stroke-opacity="0.85"/>
<line x1="1012.4" y1="672.2" x2="965.5" y2="697.9" stroke-width="2.11"/>
<line x1="1012.4" y1="672.2" x2="953.9" y2="713.8" stroke-width="2.11"/>
<line x1="1012.4" y1="672.2" x2="917.1" y2="734.7" stroke-width="1" stroke-opacity="0.85"/>
<line x1="1012.4" y1="672.2" x2="932.8" y2="659.3" stroke-width="0.8" stroke-opacity="0.85"/>
<line x1="1009.9" y1="697.9" x2="965.1" y2="673.0" stroke-width="2.29"/>
<line x1="1009.9" y1="697.9" x2="965.5" y2="697.9" stroke-width="2.64"/>
<line x1="1009.9" y1="697.9" x2="953.9" y2="713.8" stroke-width="2.64"/>
<line x1="1009.9" y1="697.9" x2="943.7" y2="687.7" stroke-width="2.11"/>
<line x1="1001.3" y1="720.2" x2="965.5" y2="697.9" stroke-width="2.64"/>
<line x1="1001.3" y1="720.2" x2="953.9" y2="713.8" stroke-width="2.64"/>
<line x1="1001.3" y1="720.2" x2="917.1" y2="734.7" stroke-width="2.29"/>
<line x1="1001.3" y1="720.2" x2="936.5" y2="738.4" stroke-width="2.64"/>
<line x1="1019.5" y1="736.0" x2="953.9" y2="713.8" stroke-width="2.29"/>
<line x1="1019.5" y1="736.0" x2="917.1" y2="734.7" stroke-width="2.64"/>
<line x1="1019.5" y1="736.0" x2="936.5" y2="738.4" stroke-width="2.64"/>
<line x1="1019.5" y1="736.0" x2="965.5" y2="697.9" stroke-width="2.11"/>
<line x1="976.4" y1="767.4" x2="917.1" y2="734.7" stroke-width="2.64"/>
<line x1="976.4" y1="767.4" x2="936.5" y2="738.4" stroke-width="2.64"/>
<line x1="976.4" y1="767.4" x2="953.9" y2="713.8" stroke-width="2.29"/>
<line x1="976.4" y1="767.4" x2="965.5" y2="697.9" stroke-width="2.29"/>
<line x1="1005.7" y1="773.0" x2="936.5" y2="738.4" stroke-width="2.64"/>
<line x1="1005.7" y1="773.0" x2="953.9" y2="713.8" stroke-width="2.64"/>
<line x1="1005.7" y1="773.0" x2="965.5" y2="697.9" stroke-width="2.29"/>
<line x1="1005.7" y1="773.0" x2="917.1" y2="734.7" stroke-width="2.29"/>
<line x1="1005.7" y1="773.0" x2="943.7" y2="687.7" stroke-width="2.11"/>
<line x1="1012.4" y1="672.2" x2="1009.9" y2="697.9" stroke-width="2.46"/>
<line x1="1009.9" y1="697.9" x2="1001.3" y2="720.2" stroke-width="2.46"/>
<line x1="1001.3" y1="720.2" x2="1019.5" y2="736.0" stroke-width="2.64"/>
<line x1="1019.5" y1="736.0" x2="1005.7" y2="773.0" stroke-width="2.64"/>
<line x1="1019.5" y1="736.0" x2="976.4" y2="767.4" stroke-width="2.64"/>
<line x1="976.4" y1="767.4" x2="1005.7" y2="773.0" stroke-width="2.64"/>
<line x1="1001.3" y1="720.2" x2="1005.7" y2="773.0" stroke-width="2.64"/>
<line x1="1001.3" y1="720.2" x2="976.4" y2="767.4" stroke-width="2.64"/>
<line x1="1009.9" y1="697.9" x2="1019.5" y2="736.0" stroke-width="2.2"/>
<line x1="1057.7" y1="609.3" x2="1102.7" y2="634.5" stroke-width="3.17"/>
<line x1="1057.7" y1="609.3" x2="1074.1" y2="681.5" stroke-width="3.17"/>
<line x1="1060.2" y1="644.4" x2="1074.1" y2="681.5" stroke-width="3.17"/>
<line x1="1102.7" y1="634.5" x2="1074.1" y2="681.5" stroke-width="2.82"/>
<line x1="1074.1" y1="681.5" x2="1079.8" y2="717.4" stroke-width="3.7"/>
<line x1="1074.1" y1="681.5" x2="1142.0" y2="708.1" stroke-width="2.82"/>
<line x1="1079.8" y1="717.4" x2="1142.0" y2="708.1" stroke-width="3.17"/>
<line x1="1012.4" y1="672.2" x2="1057.7" y2="609.3" stroke-width="1.1" stroke-opacity="0.85"/>
<line x1="1012.4" y1="672.2" x2="1060.2" y2="644.4" stroke-width="1.1" stroke-opacity="0.85"/>
<line x1="1012.4" y1="672.2" x2="1102.7" y2="634.5" stroke-width="0.8" stroke-opacity="0.85"/>
<line x1="1012.4" y1="672.2" x2="1074.1" y2="681.5" stroke-width="2.29"/>
<line x1="1012.4" y1="672.2" x2="1079.8" y2="717.4" stroke-width="0.8" stroke-opacity="0.85"/>
<line x1="1009.9" y1="697.9" x2="1060.2" y2="644.4" stroke-width="2.29"/>
<line x1="1009.9" y1="697.9" x2="1074.1" y2="681.5" stroke-width="2.29"/>
<line x1="1001.3" y1="720.2" x2="1074.1" y2="681.5" stroke-width="2.29"/>
<line x1="965.5" y1="697.9" x2="1079.8" y2="717.4" stroke-width="2.29"/>
<line x1="965.1" y1="673.0" x2="1079.8" y2="717.4" stroke-width="0.9" stroke-opacity="0.85"/>
<line x1="965.1" y1="673.0" x2="1074.1" y2="681.5" stroke-width="1" stroke-opacity="0.85"/>
<line x1="887.4" y1="767.5" x2="915.7" y2="776.0" stroke-width="2.99"/>
<line x1="887.4" y1="767.5" x2="949.0" y2="780.7" stroke-width="2.64"/>
<line x1="887.4" y1="767.5" x2="872.0" y2="787.0" stroke-width="2.99"/>
<line x1="887.4" y1="767.5" x2="896.7" y2="797.4" stroke-width="2.64"/>
<line x1="887.4" y1="767.5" x2="934.6" y2="800.8" stroke-width="2.64"/>
<line x1="887.4" y1="767.5" x2="960.5" y2="808.1" stroke-width="2.99"/>
<line x1="887.4" y1="767.5" x2="874.9" y2="817.4" stroke-width="2.29"/>
<line x1="887.4" y1="767.5" x2="915.4" y2="817.4" stroke-width="2.99"/>
<line x1="887.4" y1="767.5" x2="946.1" y2="828.9" stroke-width="2.29"/>
<line x1="887.4" y1="767.5" x2="895.7" y2="833.7" stroke-width="2.29"/>
<line x1="887.4" y1="767.5" x2="923.9" y2="842.9" stroke-width="2.99"/>
<line x1="915.7" y1="776.0" x2="949.0" y2="780.7" stroke-width="2.64"/>
<line x1="915.7" y1="776.0" x2="872.0" y2="787.0" stroke-width="2.29"/>
<line x1="915.7" y1="776.0" x2="896.7" y2="797.4" stroke-width="2.99"/>
<line x1="915.7" y1="776.0" x2="934.6" y2="800.8" stroke-width="2.99"/>
<line x1="915.7" y1="776.0" x2="960.5" y2="808.1" stroke-width="2.29"/>
<line x1="915.7" y1="776.0" x2="874.9" y2="817.4" stroke-width="2.99"/>
<line x1="915.7" y1="776.0" x2="915.4" y2="817.4" stroke-width="2.64"/>
<line x1="915.7" y1="776.0" x2="946.1" y2="828.9" stroke-width="2.99"/>
<line x1="915.7" y1="776.0" x2="895.7" y2="833.7" stroke-width="2.29"/>
<line x1="915.7" y1="776.0" x2="923.9" y2="842.9" stroke-width="2.99"/>
<line x1="949.0" y1="780.7" x2="872.0" y2="787.0" stroke-width="2.64"/>
<line x1="949.0" y1="780.7" x2="896.7" y2="797.4" stroke-width="2.99"/>
<line x1="949.0" y1="780.7" x2="934.6" y2="800.8" stroke-width="2.64"/>
<line x1="949.0" y1="780.7" x2="960.5" y2="808.1" stroke-width="2.29"/>
<line x1="949.0" y1="780.7" x2="874.9" y2="817.4" stroke-width="2.64"/>
<line x1="949.0" y1="780.7" x2="915.4" y2="817.4" stroke-width="2.29"/>
<line x1="949.0" y1="780.7" x2="946.1" y2="828.9" stroke-width="2.99"/>
<line x1="949.0" y1="780.7" x2="895.7" y2="833.7" stroke-width="2.99"/>
<line x1="949.0" y1="780.7" x2="923.9" y2="842.9" stroke-width="2.99"/>
<line x1="872.0" y1="787.0" x2="896.7" y2="797.4" stroke-width="2.64"/>
<line x1="872.0" y1="787.0" x2="934.6" y2="800.8" stroke-width="2.99"/>
<line x1="872.0" y1="787.0" x2="960.5" y2="808.1" stroke-width="2.29"/>
<line x1="872.0" y1="787.0" x2="874.9" y2="817.4" stroke-width="2.99"/>
<line x1="872.0" y1="787.0" x2="915.4" y2="817.4" stroke-width="2.29"/>
<line x1="872.0" y1="787.0" x2="946.1" y2="828.9" stroke-width="2.29"/>
<line x1="872.0" y1="787.0" x2="895.7" y2="833.7" stroke-width="2.64"/>
<line x1="872.0" y1="787.0" x2="923.9" y2="842.9" stroke-width="2.99"/>
<line x1="896.7" y1="797.4" x2="934.6" y2="800.8" stroke-width="2.29"/>
<line x1="896.7" y1="797.4" x2="960.5" y2="808.1" stroke-width="2.29"/>
<line x1="896.7" y1="797.4" x2="874.9" y2="817.4" stroke-width="2.99"/>
<line x1="896.7" y1="797.4" x2="915.4" y2="817.4" stroke-width="2.64"/>
<line x1="896.7" y1="797.4" x2="946.1" y2="828.9" stroke-width="2.64"/>
<line x1="896.7" y1="797.4" x2="895.7" y2="833.7" stroke-width="2.99"/>
<line x1="896.7" y1="797.4" x2="923.9" y2="842.9" stroke-width="2.29"/>
<line x1="934.6" y1="800.8" x2="960.5" y2="808.1" stroke-width="2.29"/>
<line x1="934.6" y1="800.8" x2="874.9" y2="817.4" stroke-width="2.64"/>
<line x1="934.6" y1="800.8" x2="915.4" y2="817.4" stroke-width="2.64"/>
<line x1="934.6" y1="800.8" x2="946.1" y2="828.9" stroke-width="2.64"/>
<line x1="934.6" y1="800.8" x2="895.7" y2="833.7" stroke-width="2.29"/>
<line x1="934.6" y1="800.8" x2="923.9" y2="842.9" stroke-width="2.99"/>
<line x1="960.5" y1="808.1" x2="874.9" y2="817.4" stroke-width="2.99"/>
<line x1="960.5" y1="808.1" x2="915.4" y2="817.4" stroke-width="2.64"/>
<line x1="960.5" y1="808.1" x2="946.1" y2="828.9" stroke-width="2.64"/>
<line x1="960.5" y1="808.1" x2="895.7" y2="833.7" stroke-width="2.99"/>
<line x1="960.5" y1="808.1" x2="923.9" y2="842.9" stroke-width="2.64"/>
<line x1="874.9" y1="817.4" x2="915.4" y2="817.4" stroke-width="2.64"/>
<line x1="874.9" y1="817.4" x2="946.1" y2="828.9" stroke-width="2.29"/>
<line x1="874.9" y1="817.4" x2="895.7" y2="833.7" stroke-width="2.29"/>
<line x1="874.9" y1="817.4" x2="923.9" y2="842.9" stroke-width="2.29"/>
<line x1="915.4" y1="817.4" x2="946.1" y2="828.9" stroke-width="2.29"/>
<line x1="915.4" y1="817.4" x2="895.7" y2="833.7" stroke-width="2.64"/>
<line x1="915.4" y1="817.4" x2="923.9" y2="842.9" stroke-width="2.29"/>
<line x1="946.1" y1="828.9" x2="895.7" y2="833.7" stroke-width="2.64"/>
<line x1="946.1" y1="828.9" x2="923.9" y2="842.9" stroke-width="2.29"/>
<line x1="895.7" y1="833.7" x2="923.9" y2="842.9" stroke-width="2.64"/>
<line x1="887.4" y1="767.5" x2="917.1" y2="734.7" stroke-width="2.46"/>
<line x1="887.4" y1="767.5" x2="936.5" y2="738.4" stroke-width="2.46"/>
<line x1="915.7" y1="776.0" x2="917.1" y2="734.7" stroke-width="1.6"/>
<line x1="915.7" y1="776.0" x2="936.5" y2="738.4" stroke-width="1.94"/>
<line x1="949.0" y1="780.7" x2="917.1" y2="734.7" stroke-width="2.46"/>
<line x1="949.0" y1="780.7" x2="936.5" y2="738.4" stroke-width="1.94"/>
<line x1="872.0" y1="787.0" x2="917.1" y2="734.7" stroke-width="2.46"/>
<line x1="872.0" y1="787.0" x2="936.5" y2="738.4" stroke-width="1.6"/>
<line x1="896.7" y1="797.4" x2="917.1" y2="734.7" stroke-width="2.46"/>
<line x1="896.7" y1="797.4" x2="936.5" y2="738.4" stroke-width="1.6"/>
<line x1="934.6" y1="800.8" x2="917.1" y2="734.7" stroke-width="1.94"/>
<line x1="934.6" y1="800.8" x2="936.5" y2="738.4" stroke-width="2.46"/>
<line x1="960.5" y1="808.1" x2="917.1" y2="734.7" stroke-width="1.6"/>
<line x1="960.5" y1="808.1" x2="936.5" y2="738.4" stroke-width="1.94"/>
<line x1="874.9" y1="817.4" x2="917.1" y2="734.7" stroke-width="1.6"/>
<line x1="874.9" y1="817.4" x2="936.5" y2="738.4" stroke-width="1.94"/>
<line x1="915.4" y1="817.4" x2="917.1" y2="734.7" stroke-width="2.46"/>
<line x1="915.4" y1="817.4" x2="936.5" y2="738.4" stroke-width="1.94"/>
<line x1="946.1" y1="828.9" x2="917.1" y2="734.7" stroke-width="1.6"/>
<line x1="946.1" y1="828.9" x2="936.5" y2="738.4" stroke-width="2.46"/>
<line x1="895.7" y1="833.7" x2="917.1" y2="734.7" stroke-width="1.94"/>
<line x1="895.7" y1="833.7" x2="936.5" y2="738.4" stroke-width="1.94"/>
<line x1="923.9" y1="842.9" x2="917.1" y2="734.7" stroke-width="1.94"/>
<line x1="923.9" y1="842.9" x2="936.5" y2="738.4" stroke-width="2.46"/>
<line x1="126.7" y1="515.0" x2="83.1" y2="548.5" stroke-width="3.08"/>
<line x1="126.7" y1="515.0" x2="154.3" y2="591.0" stroke-width="2.82"/>
<line x1="83.1" y1="548.5" x2="154.3" y2="591.0" stroke-width="2.82"/>
<line x1="154.3" y1="591.0" x2="204.1" y2="669.8" stroke-width="2.82"/>
<line x1="173.5" y1="632.9" x2="204.1" y2="669.8" stroke-width="2.82"/>
<line x1="173.5" y1="632.9" x2="295.7" y2="611.6" stroke-width="2.64"/>
<line x1="173.5" y1="632.9" x2="154.3" y2="591.0" stroke-width="1" stroke-opacity="0.85"/>
<line x1="111.6" y1="617.1" x2="140.8" y2="623.2" stroke-width="2.29"/>
<line x1="111.6" y1="617.1" x2="91.5" y2="644.5" stroke-width="2.64"/>
<line x1="111.6" y1="617.1" x2="122.6" y2="655.8" stroke-width="2.64"/>
<line x1="111.6" y1="617.1" x2="151.0" y2="654.4" stroke-width="2.64"/>
<line x1="111.6" y1="617.1" x2="96.8" y2="680.5" stroke-width="2.29"/>
<line x1="111.6" y1="617.1" x2="151.6" y2="679.6" stroke-width="2.64"/>
<line x1="111.6" y1="617.1" x2="124.0" y2="694.5" stroke-width="3.34"/>
<line x1="140.8" y1="623.2" x2="91.5" y2="644.5" stroke-width="2.64"/>
<line x1="140.8" y1="623.2" x2="122.6" y2="655.8" stroke-width="3.34"/>
<line x1="140.8" y1="623.2" x2="151.0" y2="654.4" stroke-width="2.99"/>
<line x1="140.8" y1="623.2" x2="96.8" y2="680.5" stroke-width="2.64"/>
<line x1="140.8" y1="623.2" x2="151.6" y2="679.6" stroke-width="2.64"/>
<line x1="140.8" y1="623.2" x2="124.0" y2="694.5" stroke-width="2.29"/>
<line x1="91.5" y1="644.5" x2="122.6" y2="655.8" stroke-width="2.29"/>
<line x1="91.5" y1="644.5" x2="151.0" y2="654.4" stroke-width="2.29"/>
<line x1="91.5" y1="644.5" x2="96.8" y2="680.5" stroke-width="2.64"/>
<line x1="91.5" y1="644.5" x2="151.6" y2="679.6" stroke-width="3.34"/>
<line x1="91.5" y1="644.5" x2="124.0" y2="694.5" stroke-width="2.64"/>
<line x1="122.6" y1="655.8" x2="151.0" y2="654.4" stroke-width="2.64"/>
<line x1="122.6" y1="655.8" x2="96.8" y2="680.5" stroke-width="2.29"/>
<line x1="122.6" y1="655.8" x2="151.6" y2="679.6" stroke-width="2.99"/>
<line x1="122.6" y1="655.8" x2="124.0" y2="694.5" stroke-width="2.64"/>
<line x1="151.0" y1="654.4" x2="96.8" y2="680.5" stroke-width="2.99"/>
<line x1="151.0" y1="654.4" x2="151.6" y2="679.6" stroke-width="2.64"/>
<line x1="151.0" y1="654.4" x2="124.0" y2="694.5" stroke-width="2.99"/>
<line x1="96.8" y1="680.5" x2="151.6" y2="679.6" stroke-width="2.99"/>
<line x1="96.8" y1="680.5" x2="124.0" y2="694.5" stroke-width="3.34"/>
<line x1="151.6" y1="679.6" x2="124.0" y2="694.5" stroke-width="2.64"/>
<line x1="111.6" y1="617.1" x2="204.1" y2="669.8" stroke-width="2.29"/>
<line x1="140.8" y1="623.2" x2="204.1" y2="669.8" stroke-width="3.34"/>
<line x1="91.5" y1="644.5" x2="204.1" y2="669.8" stroke-width="2.82"/>
<line x1="122.6" y1="655.8" x2="204.1" y2="669.8" stroke-width="2.82"/>
<line x1="151.0" y1="654.4" x2="204.1" y2="669.8" stroke-width="3.34"/>
<line x1="96.8" y1="680.5" x2="204.1" y2="669.8" stroke-width="3.34"/>
<line x1="151.6" y1="679.6" x2="204.1" y2="669.8" stroke-width="3.34"/>
<line x1="124.0" y1="694.5" x2="204.1" y2="669.8" stroke-width="2.82"/>
<line x1="140.8" y1="623.2" x2="173.5" y2="632.9" stroke-width="2.29"/>
<line x1="151.0" y1="654.4" x2="173.5" y2="632.9" stroke-width="2.29"/>
<line x1="151.6" y1="679.6" x2="173.5" y2="632.9" stroke-width="2.29"/>
<line x1="111.6" y1="617.1" x2="173.5" y2="632.9" stroke-width="2.29"/>
<line x1="151.6" y1="679.6" x2="146.3" y2="713.7" stroke-width="2.64"/>
<line x1="146.3" y1="713.7" x2="204.1" y2="669.8" stroke-width="1.76"/>
<line x1="146.3" y1="713.7" x2="152.8" y2="752.5" stroke-width="2.64"/>
<line x1="146.3" y1="713.7" x2="206.5" y2="689.8" stroke-width="1.5"/>
<line x1="219.7" y1="546.2" x2="251.4" y2="561.2" stroke-width="2.99"/>
<line x1="219.7" y1="546.2" x2="284.0" y2="559.3" stroke-width="1.76"/>
<line x1="219.7" y1="546.2" x2="230.7" y2="595.9" stroke-width="2.99"/>
<line x1="219.7" y1="546.2" x2="255.5" y2="603.6" stroke-width="1.76"/>
<line x1="219.7" y1="546.2" x2="211.0" y2="610.5" stroke-width="2.99"/>
<line x1="219.7" y1="546.2" x2="232.7" y2="618.3" stroke-width="2.99"/>
<line x1="251.4" y1="561.2" x2="284.0" y2="559.3" stroke-width="2.64"/>
<line x1="251.4" y1="561.2" x2="230.7" y2="595.9" stroke-width="1.76"/>
<line x1="251.4" y1="561.2" x2="255.5" y2="603.6" stroke-width="2.99"/>
<line x1="251.4" y1="561.2" x2="232.7" y2="618.3" stroke-width="1.76"/>
<line x1="251.4" y1="561.2" x2="295.7" y2="611.6" stroke-width="1.76"/>
<line x1="251.4" y1="561.2" x2="269.1" y2="632.6" stroke-width="1.76"/>
<line x1="284.0" y1="559.3" x2="230.7" y2="595.9" stroke-width="2.64"/>
<line x1="284.0" y1="559.3" x2="255.5" y2="603.6" stroke-width="2.99"/>
<line x1="284.0" y1="559.3" x2="232.7" y2="618.3" stroke-width="2.99"/>
<line x1="284.0" y1="559.3" x2="269.1" y2="632.6" stroke-width="2.11"/>
<line x1="230.7" y1="595.9" x2="255.5" y2="603.6" stroke-width="2.99"/>
<line x1="230.7" y1="595.9" x2="211.0" y2="610.5" stroke-width="2.99"/>
<line x1="230.7" y1="595.9" x2="232.7" y2="618.3" stroke-width="2.99"/>
<line x1="230.7" y1="595.9" x2="295.7" y2="611.6" stroke-width="2.64"/>
<line x1="255.5" y1="603.6" x2="211.0" y2="610.5" stroke-width="2.99"/>
<line x1="255.5" y1="603.6" x2="295.7" y2="611.6" stroke-width="1.76"/>
<line x1="255.5" y1="603.6" x2="269.1" y2="632.6" stroke-width="1.76"/>
<line x1="211.0" y1="610.5" x2="232.7" y2="618.3" stroke-width="2.11"/>
<line x1="232.7" y1="618.3" x2="295.7" y2="611.6" stroke-width="2.99"/>
<line x1="232.7" y1="618.3" x2="269.1" y2="632.6" stroke-width="2.64"/>
<line x1="295.7" y1="611.6" x2="269.1" y2="632.6" stroke-width="2.99"/>
<line x1="295.7" y1="611.6" x2="226.1" y2="650.2" stroke-width="2.82"/>
<line x1="295.7" y1="611.6" x2="262.5" y2="659.8" stroke-width="1.76"/>
<line x1="295.7" y1="611.6" x2="283.4" y2="648.3" stroke-width="1" stroke-opacity="0.85"/>
<line x1="295.7" y1="611.6" x2="299.0" y2="677.4" stroke-width="2.11"/>
<line x1="295.7" y1="611.6" x2="279.6" y2="698.3" stroke-width="1" stroke-opacity="0.85"/>
<line x1="295.7" y1="611.6" x2="255.4" y2="709.0" stroke-width="1.94"/>
<line x1="295.7" y1="611.6" x2="295.3" y2="713.5" stroke-width="1.94"/>
<line x1="295.7" y1="611.6" x2="232.7" y2="618.3" stroke-width="2.46"/>
<line x1="295.7" y1="611.6" x2="230.7" y2="595.9" stroke-width="2.11"/>
<line x1="295.7" y1="611.6" x2="255.5" y2="603.6" stroke-width="1" stroke-opacity="0.85"/>
<line x1="269.1" y1="632.6" x2="226.1" y2="650.2" stroke-width="2.11"/>
<line x1="269.1" y1="632.6" x2="262.5" y2="659.8" stroke-width="2.82"/>
<line x1="269.1" y1="632.6" x2="283.4" y2="648.3" stroke-width="1.76"/>
<line x1="269.1" y1="632.6" x2="248.3" y2="687.5" stroke-width="1.76"/>
<line x1="269.1" y1="632.6" x2="255.4" y2="709.0" stroke-width="1.76"/>
<line x1="269.1" y1="632.6" x2="295.3" y2="713.5" stroke-width="1.94"/>
<line x1="269.1" y1="632.6" x2="230.5" y2="720.3" stroke-width="1" stroke-opacity="0.85"/>
<line x1="269.1" y1="632.6" x2="211.0" y2="610.5" stroke-width="2.46"/>
<line x1="269.1" y1="632.6" x2="230.7" y2="595.9" stroke-width="1.76"/>
<line x1="226.1" y1="650.2" x2="262.5" y2="659.8" stroke-width="2.46"/>
<line x1="226.1" y1="650.2" x2="283.4" y2="648.3" stroke-width="1" stroke-opacity="0.85"/>
<line x1="226.1" y1="650.2" x2="299.0" y2="677.4" stroke-width="2.82"/>
<line x1="226.1" y1="650.2" x2="279.6" y2="698.3" stroke-width="2.82"/>
<line x1="226.1" y1="650.2" x2="295.3" y2="713.5" stroke-width="1" stroke-opacity="0.85"/>
<line x1="226.1" y1="650.2" x2="256.2" y2="732.8" stroke-width="1" stroke-opacity="0.85"/>
<line x1="226.1" y1="650.2" x2="232.7" y2="618.3" stroke-width="1.76"/>
<line x1="226.1" y1="650.2" x2="255.5" y2="603.6" stroke-width="2.46"/>
<line x1="245.2" y1="654.1" x2="283.4" y2="648.3" stroke-width="1.76"/>
<line x1="245.2" y1="654.1" x2="299.0" y2="677.4" stroke-width="1.76"/>
<line x1="245.2" y1="654.1" x2="279.6" y2="698.3" stroke-width="2.46"/>
<line x1="245.2" y1="654.1" x2="255.4" y2="709.0" stroke-width="2.82"/>
<line x1="245.2" y1="654.1" x2="256.2" y2="732.8" stroke-width="2.46"/>
<line x1="245.2" y1="654.1" x2="211.0" y2="610.5" stroke-width="1.76"/>
<line x1="245.2" y1="654.1" x2="232.7" y2="618.3" stroke-width="2.11"/>
<line x1="245.2" y1="654.1" x2="230.7" y2="595.9" stroke-width="1.76"/>
<line x1="245.2" y1="654.1" x2="255.5" y2="603.6" stroke-width="1" stroke-opacity="0.85"/>
<line x1="262.5" y1="659.8" x2="283.4" y2="648.3" stroke-width="1.76"/>
<line x1="262.5" y1="659.8" x2="248.3" y2="687.5" stroke-width="1" stroke-opacity="0.85"/>
<line x1="262.5" y1="659.8" x2="279.6" y2="698.3" stroke-width="1" stroke-opacity="0.85"/>
<line x1="262.5" y1="659.8" x2="295.3" y2="713.5" stroke-width="2.46"/>
<line x1="262.5" y1="659.8" x2="230.5" y2="720.3" stroke-width="1" stroke-opacity="0.85"/>
<line x1="262.5" y1="659.8" x2="211.0" y2="610.5" stroke-width="1" stroke-opacity="0.85"/>
<line x1="262.5" y1="659.8" x2="232.7" y2="618.3" stroke-width="2.11"/>
<line x1="262.5" y1="659.8" x2="230.7" y2="595.9" stroke-width="1.76"/>
<line x1="262.5" y1="659.8" x2="255.5" y2="603.6" stroke-width="1.76"/>
<line x1="283.4" y1="648.3" x2="299.0" y2="677.4" stroke-width="2.46"/>
<line x1="283.4" y1="648.3" x2="279.6" y2="698.3" stroke-width="1.76"/>
<line x1="283.4" y1="648.3" x2="255.4" y2="709.0" stroke-width="1" stroke-opacity="0.85"/>
<line x1="283.4" y1="648.3" x2="295.3" y2="713.5" stroke-width="2.11"/>
<line x1="283.4" y1="648.3" x2="230.5" y2="720.3" stroke-width="1" stroke-opacity="0.85"/>
<line x1="283.4" y1="648.3" x2="232.7" y2="618.3" stroke-width="2.82"/>
<line x1="299.0" y1="677.4" x2="279.6" y2="698.3" stroke-width="1" stroke-opacity="0.85"/>
<line x1="299.0" y1="677.4" x2="255.4" y2="709.0" stroke-width="1" stroke-opacity="0.85"/>
<line x1="299.0" y1="677.4" x2="256.2" y2="732.8" stroke-width="1" stroke-opacity="0.85"/>
<line x1="299.0" y1="677.4" x2="232.7" y2="618.3" stroke-width="1.94"/>
<line x1="299.0" y1="677.4" x2="230.7" y2="595.9" stroke-width="1" stroke-opacity="0.85"/>
<line x1="299.0" y1="677.4" x2="255.5" y2="603.6" stroke-width="1.94"/>
<line x1="248.3" y1="687.5" x2="255.4" y2="709.0" stroke-width="2.11"/>
<line x1="248.3" y1="687.5" x2="295.3" y2="713.5" stroke-width="2.11"/>
<line x1="248.3" y1="687.5" x2="230.5" y2="720.3" stroke-width="2.11"/>
<line x1="248.3" y1="687.5" x2="256.2" y2="732.8" stroke-width="1.76"/>
<line x1="248.3" y1="687.5" x2="211.0" y2="610.5" stroke-width="1" stroke-opacity="0.85"/>
<line x1="248.3" y1="687.5" x2="230.7" y2="595.9" stroke-width="1" stroke-opacity="0.85"/>
<line x1="279.6" y1="698.3" x2="255.4" y2="709.0" stroke-width="2.82"/>
<line x1="279.6" y1="698.3" x2="295.3" y2="713.5" stroke-width="2.46"/>
<line x1="279.6" y1="698.3" x2="256.2" y2="732.8" stroke-width="1.76"/>
<line x1="279.6" y1="698.3" x2="232.7" y2="618.3" stroke-width="1" stroke-opacity="0.85"/>
<line x1="255.4" y1="709.0" x2="295.3" y2="713.5" stroke-width="2.82"/>
<line x1="255.4" y1="709.0" x2="230.5" y2="720.3" stroke-width="1" stroke-opacity="0.85"/>
<line x1="255.4" y1="709.0" x2="255.5" y2="603.6" stroke-width="1" stroke-opacity="0.85"/>
<line x1="295.3" y1="713.5" x2="230.5" y2="720.3" stroke-width="2.82"/>
<line x1="295.3" y1="713.5" x2="232.7" y2="618.3" stroke-width="1.94"/>
<line x1="230.5" y1="720.3" x2="211.0" y2="610.5" stroke-width="1" stroke-opacity="0.85"/>
<line x1="230.5" y1="720.3" x2="232.7" y2="618.3" stroke-width="1.94"/>
<line x1="211.0" y1="610.5" x2="232.7" y2="618.3" stroke-width="1" stroke-opacity="0.85"/>
<line x1="211.0" y1="610.5" x2="230.7" y2="595.9" stroke-width="2.11"/>
<line x1="232.7" y1="618.3" x2="255.5" y2="603.6" stroke-width="2.11"/>
<line x1="230.7" y1="595.9" x2="255.5" y2="603.6" stroke-width="2.46"/>
<line x1="219.7" y1="546.2" x2="283.4" y2="648.3" stroke-width="2.11"/>
<line x1="251.4" y1="561.2" x2="283.4" y2="648.3" stroke-width="2.11"/>
<line x1="284.0" y1="559.3" x2="226.1" y2="650.2" stroke-width="2.11"/>
<line x1="284.0" y1="559.3" x2="262.5" y2="659.8" stroke-width="2.11"/>
<line x1="284.0" y1="559.3" x2="283.4" y2="648.3" stroke-width="2.64"/>
<line x1="269.1" y1="632.6" x2="204.1" y2="669.8" stroke-width="1.94"/>
<line x1="226.1" y1="650.2" x2="204.1" y2="669.8" stroke-width="2.46"/>
<line x1="245.2" y1="654.1" x2="204.1" y2="669.8" stroke-width="2.46"/>
<line x1="262.5" y1="659.8" x2="204.1" y2="669.8" stroke-width="1.6"/>
<line x1="283.4" y1="648.3" x2="204.1" y2="669.8" stroke-width="2.46"/>
<line x1="299.0" y1="677.4" x2="204.1" y2="669.8" stroke-width="1.6"/>
<line x1="248.3" y1="687.5" x2="204.1" y2="669.8" stroke-width="1.6"/>
<line x1="279.6" y1="698.3" x2="204.1" y2="669.8" stroke-width="1.6"/>
<line x1="255.4" y1="709.0" x2="204.1" y2="669.8" stroke-width="1.94"/>
<line x1="295.3" y1="713.5" x2="204.1" y2="669.8" stroke-width="2.82"/>
<line x1="230.5" y1="720.3" x2="204.1" y2="669.8" stroke-width="1.94"/>
<line x1="256.2" y1="732.8" x2="204.1" y2="669.8" stroke-width="2.82"/>
<line x1="211.0" y1="610.5" x2="204.1" y2="669.8" stroke-width="1.6"/>
<line x1="232.7" y1="618.3" x2="204.1" y2="669.8" stroke-width="2.82"/>
<line x1="230.7" y1="595.9" x2="204.1" y2="669.8" stroke-width="2.82"/>
<line x1="255.5" y1="603.6" x2="204.1" y2="669.8" stroke-width="2.82"/>
<line x1="284.6" y1="769.4" x2="204.1" y2="669.8" stroke-width="2.46"/>
<line x1="248.3" y1="687.5" x2="206.5" y2="689.8" stroke-width="2.11"/>
<line x1="255.4" y1="709.0" x2="206.5" y2="689.8" stroke-width="2.11"/>
<line x1="230.5" y1="720.3" x2="206.5" y2="689.8" stroke-width="2.64"/>
<line x1="256.2" y1="732.8" x2="206.5" y2="689.8" stroke-width="2.11"/>
<line x1="279.6" y1="698.3" x2="206.5" y2="689.8" stroke-width="2.11"/>
<line x1="295.3" y1="713.5" x2="206.5" y2="689.8" stroke-width="2.64"/>
<line x1="248.3" y1="687.5" x2="284.6" y2="769.4" stroke-width="2.11"/>
<line x1="255.4" y1="709.0" x2="284.6" y2="769.4" stroke-width="1" stroke-opacity="0.85"/>
<line x1="230.5" y1="720.3" x2="284.6" y2="769.4" stroke-width="1" stroke-opacity="0.85"/>
<line x1="256.2" y1="732.8" x2="284.6" y2="769.4" stroke-width="1" stroke-opacity="0.85"/>
<line x1="279.6" y1="698.3" x2="284.6" y2="769.4" stroke-width="1" stroke-opacity="0.85"/>
<line x1="295.3" y1="713.5" x2="284.6" y2="769.4" stroke-width="2.64"/>
<line x1="299.0" y1="677.4" x2="284.6" y2="769.4" stroke-width="2.64"/>
<line x1="262.5" y1="659.8" x2="284.6" y2="769.4" stroke-width="2.11"/>
<line x1="193.6" y1="794.4" x2="115.5" y2="826.1" stroke-width="1" stroke-opacity="0.85"/>
<line x1="193.6" y1="794.4" x2="155.2" y2="843.6" stroke-width="2.64"/>
<line x1="193.6" y1="794.4" x2="190.7" y2="847.1" stroke-width="3.17"/>
<line x1="193.6" y1="794.4" x2="226.9" y2="849.6" stroke-width="2.64"/>
<line x1="193.6" y1="794.4" x2="153.7" y2="879.9" stroke-width="2.64"/>
<line x1="193.6" y1="794.4" x2="219.1" y2="885.6" stroke-width="2.64"/>
<line x1="155.2" y1="843.6" x2="190.7" y2="847.1" stroke-width="2.64"/>
<line x1="155.2" y1="843.6" x2="226.9" y2="849.6" stroke-width="2.11"/>
<line x1="155.2" y1="843.6" x2="153.7" y2="879.9" stroke-width="2.11"/>
<line x1="155.2" y1="843.6" x2="219.1" y2="885.6" stroke-width="2.11"/>
<line x1="155.2" y1="843.6" x2="185.2" y2="897.8" stroke-width="2.82"/>
<line x1="190.7" y1="847.1" x2="226.9" y2="849.6" stroke-width="2.64"/>
<line x1="190.7" y1="847.1" x2="153.7" y2="879.9" stroke-width="2.82"/>
<line x1="190.7" y1="847.1" x2="219.1" y2="885.6" stroke-width="2.82"/>
<line x1="190.7" y1="847.1" x2="185.2" y2="897.8" stroke-width="2.64"/>
<line x1="226.9" y1="849.6" x2="153.7" y2="879.9" stroke-width="2.82"/>
<line x1="226.9" y1="849.6" x2="219.1" y2="885.6" stroke-width="2.11"/>
<line x1="226.9" y1="849.6" x2="185.2" y2="897.8" stroke-width="2.82"/>
<line x1="153.7" y1="879.9" x2="219.1" y2="885.6" stroke-width="2.64"/>
<line x1="153.7" y1="879.9" x2="185.2" y2="897.8" stroke-width="2.11"/>
<line x1="219.1" y1="885.6" x2="185.2" y2="897.8" stroke-width="2.64"/>
<line x1="193.6" y1="794.4" x2="152.8" y2="752.5" stroke-width="2.64"/>
<line x1="193.6" y1="794.4" x2="191.2" y2="742.5" stroke-width="2.64"/>
<line x1="193.6" y1="794.4" x2="226.5" y2="759.7" stroke-width="2.64"/>
<line x1="193.6" y1="794.4" x2="204.1" y2="669.8" stroke-width="2.82"/>
<line x1="193.6" y1="794.4" x2="206.5" y2="689.8" stroke-width="2.64"/>
<line x1="152.8" y1="752.5" x2="191.2" y2="742.5" stroke-width="2.82"/>
<line x1="152.8" y1="752.5" x2="204.1" y2="669.8" stroke-width="2.64"/>
<line x1="191.2" y1="742.5" x2="204.1" y2="669.8" stroke-width="2.64"/>
<line x1="191.2" y1="742.5" x2="230.5" y2="720.3" stroke-width="2.64"/>
<line x1="191.2" y1="742.5" x2="256.2" y2="732.8" stroke-width="2.64"/>
<line x1="226.5" y1="759.7" x2="284.6" y2="769.4" stroke-width="2.82"/>
<line x1="226.5" y1="759.7" x2="230.5" y2="720.3" stroke-width="2.11"/>
<line x1="226.5" y1="759.7" x2="256.2" y2="732.8" stroke-width="2.64"/>
<line x1="226.5" y1="759.7" x2="204.1" y2="669.8" stroke-width="2.64"/>
<line x1="191.2" y1="742.5" x2="206.5" y2="689.8" stroke-width="2.64"/>
<line x1="193.6" y1="794.4" x2="230.5" y2="720.3" stroke-width="1" stroke-opacity="0.85"/>
<line x1="226.5" y1="759.7" x2="206.5" y2="689.8" stroke-width="2.11"/>
<line x1="191.2" y1="742.5" x2="193.6" y2="794.4" stroke-width="1" stroke-opacity="0.85"/>
<line x1="92.9" y1="372.2" x2="152.5" y2="372.2" stroke-width="2.11"/>
<line x1="92.9" y1="421.8" x2="152.5" y2="421.8" stroke-width="2.11"/>
<line x1="694.1" y1="340.1" x2="648.8" y2="380.0" stroke-width="1.94"/>
<line x1="648.8" y1="380.0" x2="706.3" y2="399.0" stroke-width="2.11"/>
<line x1="694.1" y1="340.1" x2="706.3" y2="399.0" stroke-width="1.94"/>
<line x1="842.4" y1="338.7" x2="797.9" y2="379.5" stroke-width="2.46"/>
<line x1="797.9" y1="379.5" x2="855.3" y2="397.5" stroke-width="2.46"/>
<line x1="842.4" y1="338.7" x2="855.3" y2="397.5" stroke-width="2.46"/>
<line x1="980.7" y1="341.6" x2="981.1" y2="401.6" stroke-width="1.5"/>
</g>
<g>
<circle cx="94.9" cy="109" r="6.7" fill="#ff7068"/><circle cx="94.9" cy="109" r="3.69" fill="#ff0000"/>
<circle cx="94.9" cy="160.2" r="9.7" fill="#ff0000"/><circle cx="94.9" cy="160.2" r="5.33" fill="none" stroke="#ffb0a8" stroke-opacity="0.34" stroke-width="0.45"/>
<circle cx="94.9" cy="216.2" r="8" fill="#ff0000"/><circle cx="94.9" cy="216.2" r="4.40" fill="none" stroke="#ffb0a8" stroke-opacity="0.34" stroke-width="0.45"/>
<circle cx="284.6" cy="96.2" r="6.7" fill="#ff0000"/><circle cx="284.6" cy="96.2" r="3.69" fill="none" stroke="#ffb0a8" stroke-opacity="0.34" stroke-width="0.45"/>
<circle cx="256.8" cy="130.7" r="9.7" fill="#ff0000"/><circle cx="256.8" cy="130.7" r="5.33" fill="none" stroke="#ffb0a8" stroke-opacity="0.34" stroke-width="0.45"/>
<circle cx="294.7" cy="136.8" r="8" fill="#ff0000"/><circle cx="294.7" cy="136.8" r="4.40" fill="none" stroke="#ffb0a8" stroke-opacity="0.34" stroke-width="0.45"/>
<circle cx="235.3" cy="152.5" r="10.7" fill="#ff0000"/><circle cx="235.3" cy="152.5" r="5.88" fill="none" stroke="#ffb0a8" stroke-opacity="0.34" stroke-width="0.45"/>
<circle cx="320.1" cy="160.2" r="5.7" fill="#ff0000"/><circle cx="320.1" cy="160.2" r="3.31" fill="#ff7068" stroke="#ffd0c8" stroke-opacity="0.6" stroke-width="0.4"/>
<circle cx="269.9" cy="172" r="5.4" fill="#ff0000"/><circle cx="269.9" cy="172" r="3.13" fill="#ffb8ae" stroke="#ffd0c8" stroke-opacity="0.6" stroke-width="0.4"/>
<circle cx="302.4" cy="186" r="6.4" fill="#ff0000"/><circle cx="302.4" cy="186" r="3.52" fill="none" stroke="#ffb0a8" stroke-opacity="0.34" stroke-width="0.45"/>
<circle cx="242.4" cy="198.5" r="5.7" fill="#ff0000"/><circle cx="242.4" cy="198.5" r="3.31" fill="#ff7068" stroke="#ffd0c8" stroke-opacity="0.6" stroke-width="0.4"/>
<circle cx="272.9" cy="205.5" r="6.4" fill="#ff0000"/><circle cx="272.9" cy="205.5" r="3.52" fill="none" stroke="#ffb0a8" stroke-opacity="0.34" stroke-width="0.45"/>
<circle cx="326.2" cy="218.2" r="10" fill="#ff0000"/><circle cx="326.2" cy="218.2" r="5.50" fill="none" stroke="#ffb0a8" stroke-opacity="0.34" stroke-width="0.45"/>
<circle cx="288.6" cy="241" r="10" fill="#ff0000"/><circle cx="288.6" cy="241" r="5.50" fill="none" stroke="#ffb0a8" stroke-opacity="0.34" stroke-width="0.45"/>
<circle cx="462.1" cy="88.8" r="8" fill="#ff0000"/><circle cx="462.1" cy="88.8" r="4.40" fill="none" stroke="#ffb0a8" stroke-opacity="0.34" stroke-width="0.45"/>
<circle cx="509.7" cy="94.5" r="6.7" fill="#ff0000"/><circle cx="509.7" cy="94.5" r="3.69" fill="none" stroke="#ffb0a8" stroke-opacity="0.34" stroke-width="0.45"/>
<circle cx="450" cy="143.1" r="5.7" fill="#ff0000"/><circle cx="450" cy="143.1" r="3.14" fill="none" stroke="#ffb0a8" stroke-opacity="0.34" stroke-width="0.45"/>
<circle cx="473.5" cy="152.2" r="5.7" fill="#ff0000"/><circle cx="473.5" cy="152.2" r="3.14" fill="none" stroke="#ffb0a8" stroke-opacity="0.34" stroke-width="0.45"/>
<circle cx="512.4" cy="148.5" r="6" fill="#ff0000"/><circle cx="512.4" cy="148.5" r="3.30" fill="none" stroke="#ffb0a8" stroke-opacity="0.34" stroke-width="0.45"/>
<circle cx="645.3" cy="144.9" r="5.7" fill="#ff0000"/><circle cx="645.3" cy="144.9" r="3.65" fill="#ff7068" stroke="#ffd0c8" stroke-opacity="0.6" stroke-width="0.4"/>
<circle cx="645.8" cy="185.4" r="5.9" fill="#ff0000"/><circle cx="645.8" cy="185.4" r="3.78" fill="#ff7068" stroke="#ffd0c8" stroke-opacity="0.6" stroke-width="0.4"/>
<circle cx="692.7" cy="185.4" r="6.9" fill="#ff0000"/><circle cx="692.7" cy="185.4" r="3.80" fill="none" stroke="#ffb0a8" stroke-opacity="0.34" stroke-width="0.45"/>
<circle cx="738.9" cy="185.4" r="5.7" fill="#ff0000"/><circle cx="738.9" cy="185.4" r="3.65" fill="#ffb8ae" stroke="#ffd0c8" stroke-opacity="0.6" stroke-width="0.4"/>
<circle cx="474" cy="226.5" r="7.2" fill="#ff0000"/><circle cx="474" cy="226.5" r="3.96" fill="none" stroke="#ffb0a8" stroke-opacity="0.34" stroke-width="0.45"/>
<circle cx="524.2" cy="232.5" r="8" fill="#ff0000"/><circle cx="524.2" cy="232.5" r="4.40" fill="none" stroke="#ffb0a8" stroke-opacity="0.34" stroke-width="0.45"/>
<circle cx="483.7" cy="251.2" r="7.5" fill="#ff0000"/><circle cx="483.7" cy="251.2" r="4.12" fill="none" stroke="#ffb0a8" stroke-opacity="0.34" stroke-width="0.45"/>
<circle cx="443.5" cy="260.2" r="7.5" fill="#ff0000"/><circle cx="443.5" cy="260.2" r="4.12" fill="none" stroke="#ffb0a8" stroke-opacity="0.34" stroke-width="0.45"/>
<circle cx="463.2" cy="275" r="7.2" fill="#ff0000"/><circle cx="463.2" cy="275" r="3.96" fill="none" stroke="#ffb0a8" stroke-opacity="0.34" stroke-width="0.45"/>
<circle cx="501.7" cy="269.2" r="7.5" fill="#ff0000"/><circle cx="501.7" cy="269.2" r="4.12" fill="none" stroke="#ffb0a8" stroke-opacity="0.34" stroke-width="0.45"/>
<circle cx="526" cy="277.7" r="7" fill="#ff0000"/><circle cx="526" cy="277.7" r="3.85" fill="none" stroke="#ffb0a8" stroke-opacity="0.34" stroke-width="0.45"/>
<circle cx="442.7" cy="305.5" r="9" fill="#ff0000"/><circle cx="442.7" cy="305.5" r="4.95" fill="none" stroke="#ffb0a8" stroke-opacity="0.34" stroke-width="0.45"/>
<circle cx="485.5" cy="301" r="7" fill="#ff0000"/><circle cx="485.5" cy="301" r="3.85" fill="none" stroke="#ffb0a8" stroke-opacity="0.34" stroke-width="0.45"/>
<circle cx="515.2" cy="308.5" r="7.2" fill="#ff0000"/><circle cx="515.2" cy="308.5" r="3.96" fill="none" stroke="#ffb0a8" stroke-opacity="0.34" stroke-width="0.45"/>
<circle cx="461.2" cy="324.7" r="10" fill="#ff0000"/><circle cx="461.2" cy="324.7" r="5.50" fill="none" stroke="#ffb0a8" stroke-opacity="0.34" stroke-width="0.45"/>
<circle cx="490" cy="328" r="7.5" fill="#ff0000"/><circle cx="490" cy="328" r="4.12" fill="none" stroke="#ffb0a8" stroke-opacity="0.34" stroke-width="0.45"/>
<circle cx="483.1" cy="403.2" r="5.5" fill="#ff0000"/><circle cx="483.1" cy="403.2" r="3.03" fill="none" stroke="#ffb0a8" stroke-opacity="0.34" stroke-width="0.45"/>
<circle cx="526.6" cy="388.5" r="7" fill="#ff0000"/><circle cx="526.6" cy="388.5" r="4.06" fill="#ff7068" stroke="#ffd0c8" stroke-opacity="0.6" stroke-width="0.4"/>
<circle cx="423.4" cy="417.5" r="13.5" fill="#ff0000"/><circle cx="423.4" cy="417.5" r="7.43" fill="none" stroke="#ffb0a8" stroke-opacity="0.34" stroke-width="0.45"/>
<circle cx="484.1" cy="450.7" r="8.7" fill="#ff0000"/><circle cx="484.1" cy="450.7" r="4.79" fill="none" stroke="#ffb0a8" stroke-opacity="0.34" stroke-width="0.45"/>
<circle cx="444.4" cy="513.4" r="15.2" fill="#ff0000"/><circle cx="444.4" cy="513.4" r="8.36" fill="none" stroke="#ffb0a8" stroke-opacity="0.34" stroke-width="0.45"/>
<circle cx="465.6" cy="529.4" r="16.7" fill="#ff0000"/><circle cx="465.6" cy="529.4" r="9.19" fill="none" stroke="#ffb0a8" stroke-opacity="0.34" stroke-width="0.45"/>
<circle cx="380.2" cy="524.2" r="6.7" fill="#ff0000"/><circle cx="380.2" cy="524.2" r="3.69" fill="none" stroke="#ffb0a8" stroke-opacity="0.34" stroke-width="0.45"/>
<circle cx="373.5" cy="557.7" r="7.7" fill="#ff0000"/><circle cx="373.5" cy="557.7" r="4.24" fill="none" stroke="#ffb0a8" stroke-opacity="0.34" stroke-width="0.45"/>
<circle cx="403.2" cy="577" r="7.7" fill="#ff7068"/><circle cx="403.2" cy="577" r="4.24" fill="#ff0000"/>
<circle cx="384.8" cy="633.5" r="6" fill="#ff0000"/><circle cx="384.8" cy="633.5" r="3.48" fill="#ff7068" stroke="#ffd0c8" stroke-opacity="0.6" stroke-width="0.4"/>
<circle cx="618.7" cy="592.3" r="6.3" fill="#ff7068"/><circle cx="618.7" cy="592.3" r="3.47" fill="#ff0000"/>
<circle cx="493" cy="579.5" r="7.6" fill="#ff0000"/><circle cx="493" cy="579.5" r="4.18" fill="none" stroke="#ffb0a8" stroke-opacity="0.34" stroke-width="0.45"/>
<circle cx="503.2" cy="599.3" r="7" fill="#ff0000"/><circle cx="503.2" cy="599.3" r="4.06" fill="#ff7068" stroke="#ffd0c8" stroke-opacity="0.6" stroke-width="0.4"/>
<circle cx="468.9" cy="621.7" r="7.5" fill="#ff0000"/><circle cx="468.9" cy="621.7" r="4.35" fill="#ff7068" stroke="#ffd0c8" stroke-opacity="0.6" stroke-width="0.4"/>
<circle cx="508.7" cy="630.4" r="9" fill="#ff0000"/><circle cx="508.7" cy="630.4" r="4.95" fill="none" stroke="#ffb0a8" stroke-opacity="0.34" stroke-width="0.45"/>
<circle cx="533.1" cy="665.4" r="6" fill="#ff0000"/><circle cx="533.1" cy="665.4" r="3.30" fill="none" stroke="#ffb0a8" stroke-opacity="0.34" stroke-width="0.45"/>
<circle cx="500.7" cy="674.6" r="6" fill="#ff0000"/><circle cx="500.7" cy="674.6" r="3.30" fill="none" stroke="#ffb0a8" stroke-opacity="0.34" stroke-width="0.45"/>
<circle cx="571.9" cy="686.9" r="8" fill="#ff0000"/><circle cx="571.9" cy="686.9" r="4.40" fill="none" stroke="#ffb0a8" stroke-opacity="0.34" stroke-width="0.45"/>
<circle cx="478.9" cy="698.1" r="6" fill="#ff0000"/><circle cx="478.9" cy="698.1" r="3.30" fill="none" stroke="#ffb0a8" stroke-opacity="0.34" stroke-width="0.45"/>
<circle cx="512.2" cy="718.1" r="16" fill="#ff0000"/><circle cx="512.2" cy="718.1" r="8.80" fill="none" stroke="#ffb0a8" stroke-opacity="0.34" stroke-width="0.45"/>
<circle cx="548.9" cy="726.1" r="6.2" fill="#ff0000"/><circle cx="548.9" cy="726.1" r="3.41" fill="none" stroke="#ffb0a8" stroke-opacity="0.34" stroke-width="0.45"/>
<circle cx="509.9" cy="741.1" r="6.5" fill="#ff0000"/><circle cx="509.9" cy="741.1" r="3.58" fill="none" stroke="#ffb0a8" stroke-opacity="0.34" stroke-width="0.45"/>
<circle cx="471.2" cy="785.4" r="8.2" fill="#ff0000"/><circle cx="471.2" cy="785.4" r="4.51" fill="none" stroke="#ffb0a8" stroke-opacity="0.34" stroke-width="0.45"/>
<circle cx="528.9" cy="789.4" r="7.5" fill="#ff0000"/><circle cx="528.9" cy="789.4" r="4.35" fill="#fffff2" stroke="#ffd0c8" stroke-opacity="0.6" stroke-width="0.4"/>
<circle cx="564.1" cy="790.2" r="5.5" fill="#ff0000"/><circle cx="564.1" cy="790.2" r="3.19" fill="#ff7068" stroke="#ffd0c8" stroke-opacity="0.6" stroke-width="0.4"/>
<circle cx="507.7" cy="812.7" r="6" fill="#ff0000"/><circle cx="507.7" cy="812.7" r="3.30" fill="none" stroke="#ffb0a8" stroke-opacity="0.34" stroke-width="0.45"/>
<circle cx="700.2" cy="521.7" r="7.7" fill="#ff7068"/><circle cx="700.2" cy="521.7" r="4.24" fill="#ff0000"/>
<circle cx="731.4" cy="519" r="6.7" fill="#ff0000"/><circle cx="731.4" cy="519" r="3.69" fill="none" stroke="#ffb0a8" stroke-opacity="0.34" stroke-width="0.45"/>
<circle cx="762.4" cy="532.2" r="7" fill="#ff0000"/><circle cx="762.4" cy="532.2" r="3.85" fill="none" stroke="#ffb0a8" stroke-opacity="0.34" stroke-width="0.45"/>
<circle cx="688.4" cy="548.4" r="6" fill="#ff0000"/><circle cx="688.4" cy="548.4" r="3.30" fill="none" stroke="#ffb0a8" stroke-opacity="0.34" stroke-width="0.45"/>
<circle cx="797.4" cy="561" r="6.5" fill="#ff0000"/><circle cx="797.4" cy="561" r="3.58" fill="none" stroke="#ffb0a8" stroke-opacity="0.34" stroke-width="0.45"/>
<circle cx="770.6" cy="569.7" r="8" fill="#ff0000"/><circle cx="770.6" cy="569.7" r="4.40" fill="none" stroke="#ffb0a8" stroke-opacity="0.34" stroke-width="0.45"/>
<circle cx="728.6" cy="572.2" r="12.5" fill="#ff0000"/><circle cx="728.6" cy="572.2" r="6.88" fill="none" stroke="#ffb0a8" stroke-opacity="0.34" stroke-width="0.45"/>
<circle cx="712.9" cy="588.9" r="14" fill="#ff0000"/><circle cx="712.9" cy="588.9" r="7.70" fill="none" stroke="#ffb0a8" stroke-opacity="0.34" stroke-width="0.45"/>
<circle cx="731.6" cy="605.1" r="18" fill="#ff0000"/><circle cx="731.6" cy="605.1" r="9.90" fill="none" stroke="#ffb0a8" stroke-opacity="0.34" stroke-width="0.45"/>
<circle cx="704.2" cy="620.4" r="11.2" fill="#ff0000"/><circle cx="704.2" cy="620.4" r="6.16" fill="none" stroke="#ffb0a8" stroke-opacity="0.34" stroke-width="0.45"/>
<circle cx="657.5" cy="570.9" r="6" fill="#ff7068"/><circle cx="657.5" cy="570.9" r="3.30" fill="#ff0000"/>
<circle cx="656.7" cy="601.4" r="6" fill="#ff7068"/><circle cx="656.7" cy="601.4" r="3.30" fill="#ff0000"/>
<circle cx="656" cy="634.9" r="6" fill="#ffb8ae"/><circle cx="656" cy="634.9" r="3.30" fill="#ff0000"/>
<circle cx="779.6" cy="598.1" r="6" fill="#ffffff"/><circle cx="779.6" cy="598.1" r="3.30" fill="#ff0000"/>
<circle cx="816.1" cy="609.4" r="5.7" fill="#ff0000"/><circle cx="816.1" cy="609.4" r="3.14" fill="none" stroke="#ffb0a8" stroke-opacity="0.34" stroke-width="0.45"/>
<circle cx="799.3" cy="633.9" r="6" fill="#ff7068"/><circle cx="799.3" cy="633.9" r="3.30" fill="#ff0000"/>
<circle cx="766.9" cy="641.1" r="6" fill="#ffffff"/><circle cx="766.9" cy="641.1" r="3.30" fill="#ff0000"/>
<circle cx="688.9" cy="651.4" r="7.5" fill="#ff0000"/><circle cx="688.9" cy="651.4" r="4.12" fill="none" stroke="#ffb0a8" stroke-opacity="0.34" stroke-width="0.45"/>
<circle cx="740.9" cy="656.4" r="5.5" fill="#ffffff"/><circle cx="740.9" cy="656.4" r="3.03" fill="#ff0000"/>
<circle cx="787.4" cy="672.8" r="7.5" fill="#ff7068"/><circle cx="787.4" cy="672.8" r="4.12" fill="#ff0000"/>
<circle cx="828.6" cy="673.5" r="14.5" fill="#ff0000"/><circle cx="828.6" cy="673.5" r="7.98" fill="none" stroke="#ffb0a8" stroke-opacity="0.34" stroke-width="0.45"/>
<circle cx="722.4" cy="688.3" r="6" fill="#ffffff"/><circle cx="722.4" cy="688.3" r="3.30" fill="#ff0000"/>
<circle cx="750.6" cy="686.1" r="6" fill="#ffffff"/><circle cx="750.6" cy="686.1" r="3.30" fill="#ff0000"/>
<circle cx="771.8" cy="721.4" r="7.5" fill="#ff0000"/><circle cx="771.8" cy="721.4" r="4.12" fill="none" stroke="#ffb0a8" stroke-opacity="0.34" stroke-width="0.45"/>
<circle cx="839" cy="730.6" r="7.5" fill="#ff0000"/><circle cx="839" cy="730.6" r="4.12" fill="none" stroke="#ffb0a8" stroke-opacity="0.34" stroke-width="0.45"/>
<circle cx="892.2" cy="647.8" r="6.7" fill="#ff0000"/><circle cx="892.2" cy="647.8" r="3.89" fill="#ff7068" stroke="#ffd0c8" stroke-opacity="0.6" stroke-width="0.4"/>
<circle cx="920" cy="642.1" r="6" fill="#ff0000"/><circle cx="920" cy="642.1" r="3.30" fill="none" stroke="#ffb0a8" stroke-opacity="0.34" stroke-width="0.45"/>
<circle cx="932.8" cy="659.3" r="7" fill="#ff0000"/><circle cx="932.8" cy="659.3" r="3.85" fill="none" stroke="#ffb0a8" stroke-opacity="0.34" stroke-width="0.45"/>
<circle cx="951.4" cy="658.4" r="10.5" fill="#ff0000"/><circle cx="951.4" cy="658.4" r="5.78" fill="none" stroke="#ffb0a8" stroke-opacity="0.34" stroke-width="0.45"/>
<circle cx="965.1" cy="673" r="11" fill="#ff0000"/><circle cx="965.1" cy="673" r="6.05" fill="none" stroke="#ffb0a8" stroke-opacity="0.34" stroke-width="0.45"/>
<circle cx="882.3" cy="672.8" r="6" fill="#ff0000"/><circle cx="882.3" cy="672.8" r="3.48" fill="#ff7068" stroke="#ffd0c8" stroke-opacity="0.6" stroke-width="0.4"/>
<circle cx="903.6" cy="675.4" r="6" fill="#ff0000"/><circle cx="903.6" cy="675.4" r="3.30" fill="none" stroke="#ffb0a8" stroke-opacity="0.34" stroke-width="0.45"/>
<circle cx="920" cy="683.8" r="7.5" fill="#ff0000"/><circle cx="920" cy="683.8" r="4.35" fill="#fffff2" stroke="#ffd0c8" stroke-opacity="0.6" stroke-width="0.4"/>
<circle cx="943.7" cy="687.7" r="11.5" fill="#ff0000"/><circle cx="943.7" cy="687.7" r="6.33" fill="none" stroke="#ffb0a8" stroke-opacity="0.34" stroke-width="0.45"/>
<circle cx="953.9" cy="713.8" r="13" fill="#ff0000"/><circle cx="953.9" cy="713.8" r="7.15" fill="none" stroke="#ffb0a8" stroke-opacity="0.34" stroke-width="0.45"/>
<circle cx="965.5" cy="697.9" r="13.5" fill="#ff0000"/><circle cx="965.5" cy="697.9" r="7.43" fill="none" stroke="#ffb0a8" stroke-opacity="0.34" stroke-width="0.45"/>
<circle cx="888.3" cy="692.4" r="6.5" fill="#ff0000"/><circle cx="888.3" cy="692.4" r="3.58" fill="none" stroke="#ffb0a8" stroke-opacity="0.34" stroke-width="0.45"/>
<circle cx="902.4" cy="705.3" r="5.7" fill="#ff0000"/><circle cx="902.4" cy="705.3" r="3.31" fill="#ff7068" stroke="#ffd0c8" stroke-opacity="0.6" stroke-width="0.4"/>
<circle cx="876.2" cy="708.9" r="5.7" fill="#ff0000"/><circle cx="876.2" cy="708.9" r="3.31" fill="#ffb8ae" stroke="#ffd0c8" stroke-opacity="0.6" stroke-width="0.4"/>
<circle cx="890.9" cy="724.5" r="6.5" fill="#ff0000"/><circle cx="890.9" cy="724.5" r="3.77" fill="#ffb8ae" stroke="#ffd0c8" stroke-opacity="0.6" stroke-width="0.4"/>
<circle cx="936.5" cy="738.4" r="15" fill="#ff0000"/><circle cx="936.5" cy="738.4" r="8.25" fill="none" stroke="#ffb0a8" stroke-opacity="0.34" stroke-width="0.45"/>
<circle cx="917.1" cy="734.7" r="17" fill="#ff0000"/><circle cx="917.1" cy="734.7" r="9.35" fill="none" stroke="#ffb0a8" stroke-opacity="0.34" stroke-width="0.45"/>
<circle cx="1012.4" cy="672.2" r="5.6" fill="#ff0000"/><circle cx="1012.4" cy="672.2" r="3.25" fill="#fffff2" stroke="#ffd0c8" stroke-opacity="0.6" stroke-width="0.4"/>
<circle cx="1009.9" cy="697.9" r="5.7" fill="#ff0000"/><circle cx="1009.9" cy="697.9" r="3.31" fill="#ff7068" stroke="#ffd0c8" stroke-opacity="0.6" stroke-width="0.4"/>
<circle cx="1001.3" cy="720.2" r="7.2" fill="#ff0000"/><circle cx="1001.3" cy="720.2" r="4.18" fill="#ff7068" stroke="#ffd0c8" stroke-opacity="0.6" stroke-width="0.4"/>
<circle cx="1019.5" cy="736" r="7.2" fill="#ff7068"/><circle cx="1019.5" cy="736" r="3.96" fill="#ff0000"/>
<circle cx="976.4" cy="767.4" r="7" fill="#ff7068"/><circle cx="976.4" cy="767.4" r="3.85" fill="#ff0000"/>
<circle cx="1005.7" cy="773" r="7" fill="#ff7068"/><circle cx="1005.7" cy="773" r="3.85" fill="#ff0000"/>
<circle cx="887.4" cy="767.5" r="7.3" fill="#ff0000"/><circle cx="887.4" cy="767.5" r="4.23" fill="#ffb8ae" stroke="#ffd0c8" stroke-opacity="0.6" stroke-width="0.4"/>
<circle cx="915.7" cy="776" r="7.3" fill="#ff0000"/><circle cx="915.7" cy="776" r="4.23" fill="#ffb8ae" stroke="#ffd0c8" stroke-opacity="0.6" stroke-width="0.4"/>
<circle cx="949" cy="780.7" r="7.3" fill="#ff0000"/><circle cx="949" cy="780.7" r="4.23" fill="#ffb8ae" stroke="#ffd0c8" stroke-opacity="0.6" stroke-width="0.4"/>
<circle cx="872" cy="787" r="7.3" fill="#ff0000"/><circle cx="872" cy="787" r="4.23" fill="#fffff2" stroke="#ffd0c8" stroke-opacity="0.6" stroke-width="0.4"/>
<circle cx="896.7" cy="797.4" r="7.3" fill="#ff0000"/><circle cx="896.7" cy="797.4" r="4.23" fill="#fffff2" stroke="#ffd0c8" stroke-opacity="0.6" stroke-width="0.4"/>
<circle cx="934.6" cy="800.8" r="7.3" fill="#ff0000"/><circle cx="934.6" cy="800.8" r="4.23" fill="#fffff2" stroke="#ffd0c8" stroke-opacity="0.6" stroke-width="0.4"/>
<circle cx="960.5" cy="808.1" r="7" fill="#ff0000"/><circle cx="960.5" cy="808.1" r="4.06" fill="#fffff2" stroke="#ffd0c8" stroke-opacity="0.6" stroke-width="0.4"/>
<circle cx="874.9" cy="817.4" r="7" fill="#ff0000"/><circle cx="874.9" cy="817.4" r="4.06" fill="#fffff2" stroke="#ffd0c8" stroke-opacity="0.6" stroke-width="0.4"/>
<circle cx="915.4" cy="817.4" r="7.3" fill="#ff0000"/><circle cx="915.4" cy="817.4" r="4.23" fill="#fffff2" stroke="#ffd0c8" stroke-opacity="0.6" stroke-width="0.4"/>
<circle cx="946.1" cy="828.9" r="7" fill="#ff0000"/><circle cx="946.1" cy="828.9" r="4.06" fill="#fffff2" stroke="#ffd0c8" stroke-opacity="0.6" stroke-width="0.4"/>
<circle cx="895.7" cy="833.7" r="7" fill="#ff0000"/><circle cx="895.7" cy="833.7" r="4.06" fill="#fffff2" stroke="#ffd0c8" stroke-opacity="0.6" stroke-width="0.4"/>
<circle cx="923.9" cy="842.9" r="7.3" fill="#ff0000"/><circle cx="923.9" cy="842.9" r="4.23" fill="#ffb8ae" stroke="#ffd0c8" stroke-opacity="0.6" stroke-width="0.4"/>
<circle cx="1057.7" cy="609.3" r="9.3" fill="#ff0000"/><circle cx="1057.7" cy="609.3" r="5.39" fill="#ff7068" stroke="#ffd0c8" stroke-opacity="0.6" stroke-width="0.4"/>
<circle cx="1102.7" cy="634.5" r="8.8" fill="#ff0000"/><circle cx="1102.7" cy="634.5" r="5.10" fill="#ffb8ae" stroke="#ffd0c8" stroke-opacity="0.6" stroke-width="0.4"/>
<circle cx="1060.2" cy="644.4" r="7.4" fill="#ff0000"/><circle cx="1060.2" cy="644.4" r="4.29" fill="#ffb8ae" stroke="#ffd0c8" stroke-opacity="0.6" stroke-width="0.4"/>
<circle cx="1074.1" cy="681.5" r="15.8" fill="#ff0000"/><circle cx="1074.1" cy="681.5" r="9.16" fill="#ff7068" stroke="#ffd0c8" stroke-opacity="0.6" stroke-width="0.4"/>
<circle cx="1079.8" cy="717.4" r="11" fill="#ff0000"/><circle cx="1079.8" cy="717.4" r="6.38" fill="#ff7068" stroke="#ffd0c8" stroke-opacity="0.6" stroke-width="0.4"/>
<circle cx="1142" cy="708.1" r="7.6" fill="#ff0000"/><circle cx="1142" cy="708.1" r="4.41" fill="#ff7068" stroke="#ffd0c8" stroke-opacity="0.6" stroke-width="0.4"/>
<circle cx="126.7" cy="515" r="9.6" fill="#ff0000"/><circle cx="126.7" cy="515" r="5.28" fill="none" stroke="#ffb0a8" stroke-opacity="0.34" stroke-width="0.45"/>
<circle cx="83.1" cy="548.5" r="9.6" fill="#ff0000"/><circle cx="83.1" cy="548.5" r="5.28" fill="none" stroke="#ffb0a8" stroke-opacity="0.34" stroke-width="0.45"/>
<circle cx="154.3" cy="591" r="5.7" fill="#ff0000"/><circle cx="154.3" cy="591" r="3.14" fill="none" stroke="#ffb0a8" stroke-opacity="0.34" stroke-width="0.45"/>
<circle cx="173.5" cy="632.9" r="6" fill="#ff0000"/><circle cx="173.5" cy="632.9" r="3.30" fill="none" stroke="#ffb0a8" stroke-opacity="0.34" stroke-width="0.45"/>
<circle cx="146.3" cy="713.7" r="6" fill="#ff0000"/><circle cx="146.3" cy="713.7" r="3.30" fill="none" stroke="#ffb0a8" stroke-opacity="0.34" stroke-width="0.45"/>
<circle cx="206.5" cy="689.8" r="9" fill="#ff0000"/><circle cx="206.5" cy="689.8" r="4.95" fill="none" stroke="#ffb0a8" stroke-opacity="0.34" stroke-width="0.45"/>
<circle cx="204.1" cy="669.8" r="17.8" fill="#ff0000"/><circle cx="204.1" cy="669.8" r="9.79" fill="none" stroke="#ffb0a8" stroke-opacity="0.34" stroke-width="0.45"/>
<circle cx="111.6" cy="617.1" r="12.4" fill="#ff0000"/><circle cx="111.6" cy="617.1" r="6.82" fill="none" stroke="#ffb0a8" stroke-opacity="0.34" stroke-width="0.45"/>
<circle cx="140.8" cy="623.2" r="14" fill="#ff0000"/><circle cx="140.8" cy="623.2" r="7.70" fill="none" stroke="#ffb0a8" stroke-opacity="0.34" stroke-width="0.45"/>
<circle cx="91.5" cy="644.5" r="9.2" fill="#ff0000"/><circle cx="91.5" cy="644.5" r="5.06" fill="none" stroke="#ffb0a8" stroke-opacity="0.34" stroke-width="0.45"/>
<circle cx="122.6" cy="655.8" r="9.2" fill="#ff0000"/><circle cx="122.6" cy="655.8" r="5.06" fill="none" stroke="#ffb0a8" stroke-opacity="0.34" stroke-width="0.45"/>
<circle cx="151" cy="654.4" r="5.7" fill="#ff0000"/><circle cx="151" cy="654.4" r="3.14" fill="none" stroke="#ffb0a8" stroke-opacity="0.34" stroke-width="0.45"/>
<circle cx="96.8" cy="680.5" r="13" fill="#ff0000"/><circle cx="96.8" cy="680.5" r="7.15" fill="none" stroke="#ffb0a8" stroke-opacity="0.34" stroke-width="0.45"/>
<circle cx="151.6" cy="679.6" r="8.6" fill="#ff0000"/><circle cx="151.6" cy="679.6" r="4.73" fill="none" stroke="#ffb0a8" stroke-opacity="0.34" stroke-width="0.45"/>
<circle cx="124" cy="694.5" r="9.2" fill="#ff0000"/><circle cx="124" cy="694.5" r="5.06" fill="none" stroke="#ffb0a8" stroke-opacity="0.34" stroke-width="0.45"/>
<circle cx="219.7" cy="546.2" r="6.7" fill="#ff0000"/><circle cx="219.7" cy="546.2" r="3.69" fill="none" stroke="#ffb0a8" stroke-opacity="0.34" stroke-width="0.45"/>
<circle cx="251.4" cy="561.2" r="5.7" fill="#ff0000"/><circle cx="251.4" cy="561.2" r="3.14" fill="none" stroke="#ffb0a8" stroke-opacity="0.34" stroke-width="0.45"/>
<circle cx="284" cy="559.3" r="5.7" fill="#ff0000"/><circle cx="284" cy="559.3" r="3.14" fill="none" stroke="#ffb0a8" stroke-opacity="0.34" stroke-width="0.45"/>
<circle cx="230.7" cy="595.9" r="5.7" fill="#ff0000"/><circle cx="230.7" cy="595.9" r="3.14" fill="none" stroke="#ffb0a8" stroke-opacity="0.34" stroke-width="0.45"/>
<circle cx="255.5" cy="603.6" r="5.7" fill="#ff0000"/><circle cx="255.5" cy="603.6" r="3.14" fill="none" stroke="#ffb0a8" stroke-opacity="0.34" stroke-width="0.45"/>
<circle cx="211" cy="610.5" r="5.5" fill="#ff7068"/><circle cx="211" cy="610.5" r="3.03" fill="#ff0000"/>
<circle cx="232.7" cy="618.3" r="5.7" fill="#ff0000"/><circle cx="232.7" cy="618.3" r="3.14" fill="none" stroke="#ffb0a8" stroke-opacity="0.34" stroke-width="0.45"/>
<circle cx="295.7" cy="611.6" r="10.5" fill="#ff0000"/><circle cx="295.7" cy="611.6" r="5.78" fill="none" stroke="#ffb0a8" stroke-opacity="0.34" stroke-width="0.45"/>
<circle cx="269.1" cy="632.6" r="9" fill="#ff0000"/><circle cx="269.1" cy="632.6" r="4.95" fill="none" stroke="#ffb0a8" stroke-opacity="0.34" stroke-width="0.45"/>
<circle cx="226.1" cy="650.2" r="8" fill="#ff0000"/><circle cx="226.1" cy="650.2" r="4.40" fill="none" stroke="#ffb0a8" stroke-opacity="0.34" stroke-width="0.45"/>
<circle cx="245.2" cy="654.1" r="6.7" fill="#ff0000"/><circle cx="245.2" cy="654.1" r="3.69" fill="none" stroke="#ffb0a8" stroke-opacity="0.34" stroke-width="0.45"/>
<circle cx="262.5" cy="659.8" r="7.3" fill="#ff0000"/><circle cx="262.5" cy="659.8" r="4.02" fill="none" stroke="#ffb0a8" stroke-opacity="0.34" stroke-width="0.45"/>
<circle cx="283.4" cy="648.3" r="7.3" fill="#ff0000"/><circle cx="283.4" cy="648.3" r="4.02" fill="none" stroke="#ffb0a8" stroke-opacity="0.34" stroke-width="0.45"/>
<circle cx="299" cy="677.4" r="6" fill="#ff0000"/><circle cx="299" cy="677.4" r="3.48" fill="#ff7068" stroke="#ffd0c8" stroke-opacity="0.6" stroke-width="0.4"/>
<circle cx="248.3" cy="687.5" r="6" fill="#ff0000"/><circle cx="248.3" cy="687.5" r="3.48" fill="#ff7068" stroke="#ffd0c8" stroke-opacity="0.6" stroke-width="0.4"/>
<circle cx="279.6" cy="698.3" r="5.7" fill="#ff0000"/><circle cx="279.6" cy="698.3" r="3.14" fill="none" stroke="#ffb0a8" stroke-opacity="0.34" stroke-width="0.45"/>
<circle cx="255.4" cy="709" r="5.7" fill="#ff0000"/><circle cx="255.4" cy="709" r="3.14" fill="none" stroke="#ffb0a8" stroke-opacity="0.34" stroke-width="0.45"/>
<circle cx="295.3" cy="713.5" r="5.7" fill="#ff0000"/><circle cx="295.3" cy="713.5" r="3.14" fill="none" stroke="#ffb0a8" stroke-opacity="0.34" stroke-width="0.45"/>
<circle cx="230.5" cy="720.3" r="5.7" fill="#ff0000"/><circle cx="230.5" cy="720.3" r="3.31" fill="#ff7068" stroke="#ffd0c8" stroke-opacity="0.6" stroke-width="0.4"/>
<circle cx="256.2" cy="732.8" r="5.7" fill="#ff0000"/><circle cx="256.2" cy="732.8" r="3.31" fill="#ff7068" stroke="#ffd0c8" stroke-opacity="0.6" stroke-width="0.4"/>
<circle cx="284.6" cy="769.4" r="9.2" fill="#ff0000"/><circle cx="284.6" cy="769.4" r="5.06" fill="none" stroke="#ffb0a8" stroke-opacity="0.34" stroke-width="0.45"/>
<circle cx="152.8" cy="752.5" r="5.7" fill="#ff0000"/><circle cx="152.8" cy="752.5" r="3.14" fill="none" stroke="#ffb0a8" stroke-opacity="0.34" stroke-width="0.45"/>
<circle cx="191.2" cy="742.5" r="7.2" fill="#ff0000"/><circle cx="191.2" cy="742.5" r="3.96" fill="none" stroke="#ffb0a8" stroke-opacity="0.34" stroke-width="0.45"/>
<circle cx="226.5" cy="759.7" r="6" fill="#ff0000"/><circle cx="226.5" cy="759.7" r="3.30" fill="none" stroke="#ffb0a8" stroke-opacity="0.34" stroke-width="0.45"/>
<circle cx="193.6" cy="794.4" r="8" fill="#ff0000"/><circle cx="193.6" cy="794.4" r="4.40" fill="none" stroke="#ffb0a8" stroke-opacity="0.34" stroke-width="0.45"/>
<circle cx="115.5" cy="826.1" r="5.7" fill="#ff0000"/><circle cx="115.5" cy="826.1" r="3.14" fill="none" stroke="#ffb0a8" stroke-opacity="0.34" stroke-width="0.45"/>
<circle cx="155.2" cy="843.6" r="6.7" fill="#ff0000"/><circle cx="155.2" cy="843.6" r="3.69" fill="none" stroke="#ffb0a8" stroke-opacity="0.34" stroke-width="0.45"/>
<circle cx="190.7" cy="847.1" r="6.7" fill="#ff0000"/><circle cx="190.7" cy="847.1" r="3.69" fill="none" stroke="#ffb0a8" stroke-opacity="0.34" stroke-width="0.45"/>
<circle cx="226.9" cy="849.6" r="6.7" fill="#ff0000"/><circle cx="226.9" cy="849.6" r="3.69" fill="none" stroke="#ffb0a8" stroke-opacity="0.34" stroke-width="0.45"/>
<circle cx="153.7" cy="879.9" r="6.7" fill="#ff0000"/><circle cx="153.7" cy="879.9" r="3.69" fill="none" stroke="#ffb0a8" stroke-opacity="0.34" stroke-width="0.45"/>
<circle cx="219.1" cy="885.6" r="6.7" fill="#ff0000"/><circle cx="219.1" cy="885.6" r="3.69" fill="none" stroke="#ffb0a8" stroke-opacity="0.34" stroke-width="0.45"/>
<circle cx="185.2" cy="897.8" r="6.7" fill="#ff0000"/><circle cx="185.2" cy="897.8" r="3.69" fill="none" stroke="#ffb0a8" stroke-opacity="0.34" stroke-width="0.45"/>
<circle cx="92.9" cy="320.9" r="5.7" fill="#ff0000"/><circle cx="92.9" cy="320.9" r="3.14" fill="none" stroke="#ffb0a8" stroke-opacity="0.34" stroke-width="0.45"/>
<circle cx="92.9" cy="372.2" r="6" fill="#ff0000"/><circle cx="92.9" cy="372.2" r="3.30" fill="none" stroke="#ffb0a8" stroke-opacity="0.34" stroke-width="0.45"/>
<circle cx="152.5" cy="372.2" r="6" fill="#ff0000"/><circle cx="152.5" cy="372.2" r="3.30" fill="none" stroke="#ffb0a8" stroke-opacity="0.34" stroke-width="0.45"/>
<circle cx="92.9" cy="421.8" r="6" fill="#ff0000"/><circle cx="92.9" cy="421.8" r="3.30" fill="none" stroke="#ffb0a8" stroke-opacity="0.34" stroke-width="0.45"/>
<circle cx="152.5" cy="421.8" r="5.5" fill="#ff7068"/><circle cx="152.5" cy="421.8" r="3.03" fill="#ff0000"/>
<circle cx="694.1" cy="340.1" r="5.5" fill="#0a68f8"/><circle cx="694.1" cy="340.1" r="3.03" fill="none" stroke="#a0c4ff" stroke-opacity="0.6" stroke-width="0.5"/>
<circle cx="648.8" cy="380" r="5.5" fill="#0a68f8"/><circle cx="648.8" cy="380" r="3.41" fill="#7aa8ff"/>
<circle cx="706.3" cy="399" r="5.5" fill="#0a68f8"/><circle cx="706.3" cy="399" r="3.41" fill="#2c7eff"/>
<circle cx="842.4" cy="338.7" r="7" fill="#0a68f8"/><circle cx="842.4" cy="338.7" r="3.85" fill="none" stroke="#a0c4ff" stroke-opacity="0.6" stroke-width="0.5"/>
<circle cx="797.9" cy="379.5" r="7.3" fill="#0a68f8"/><circle cx="797.9" cy="379.5" r="4.02" fill="none" stroke="#a0c4ff" stroke-opacity="0.6" stroke-width="0.5"/>
<circle cx="855.3" cy="397.5" r="7.3" fill="#0a68f8"/><circle cx="855.3" cy="397.5" r="4.02" fill="none" stroke="#a0c4ff" stroke-opacity="0.6" stroke-width="0.5"/>
<circle cx="980.7" cy="341.6" r="6" fill="#0a68f8"/><circle cx="980.7" cy="341.6" r="3.30" fill="none" stroke="#a0c4ff" stroke-opacity="0.6" stroke-width="0.5"/>
<circle cx="981.1" cy="401.6" r="8.3" fill="#0a68f8"/><circle cx="981.1" cy="401.6" r="4.57" fill="none" stroke="#a0c4ff" stroke-opacity="0.6" stroke-width="0.5"/>
<circle cx="1022.7" cy="370.7" r="5.5" fill="#7aa8ff"/><circle cx="1022.7" cy="370.7" r="3.03" fill="#0a68f8"/>
</g>
<g fill="url(#eg)" stroke="#5c5c80" stroke-opacity="0.31" stroke-width="3.2">
<ellipse cx="93.5" cy="166.8" rx="34.4" ry="78.1"/>
<ellipse cx="281.9" cy="167" rx="88.0" ry="97.0"/>
<ellipse cx="477.5" cy="123.2" rx="54.5" ry="57.3"/>
<ellipse cx="687.8" cy="169.4" rx="73.9" ry="56.6"/>
<ellipse cx="480.3" cy="284" rx="74.1" ry="78.0"/>
<ellipse cx="115.6" cy="375.2" rx="73.9" ry="77.9"/>
<ellipse cx="680.5" cy="373.8" rx="51.7" ry="54.1"/>
<ellipse cx="829.3" cy="373.8" rx="51.9" ry="54.1"/>
<ellipse cx="994" cy="373.8" rx="51.7" ry="54.1"/>
<ellipse cx="114.1" cy="656" rx="56.2" ry="59.8"/>
<ellipse cx="265.2" cy="653" rx="140.5" ry="69.7" transform="rotate(74.1 265.2 653)"/>
<ellipse cx="182.4" cy="811.2" rx="92.6" ry="107.6"/>
<ellipse cx="515.3" cy="697.5" rx="87.8" ry="145.7"/>
<ellipse cx="741.8" cy="615.5" rx="116.3" ry="127.0"/>
<ellipse cx="953.2" cy="706.4" rx="106.0" ry="69.9" transform="rotate(32.6 953.2 706.4)"/>
<ellipse cx="912.4" cy="802.3" rx="55.7" ry="58.8"/>
<ellipse cx="1095.9" cy="662.8" rx="75.4" ry="87.3" transform="rotate(-6 1095.9 662.8)"/>
</g>
<g>
<path d="M976.6 40.3 A67 67 0 0 1 976.6 174.3 Z" fill="url(#lg)" fill-opacity="0.32" stroke="#8888a0" stroke-opacity="0.5" stroke-width="1"/>
<path d="M976.6 63.099999999999994 A44.2 44.2 0 0 1 976.6 151.5 Z" fill="url(#lg)" fill-opacity="0.30" stroke="#8888a0" stroke-opacity="0.5" stroke-width="1"/>
<path d="M976.6 40.3 A67 67 0 0 0 976.6 174.3 Z" fill="url(#lg)" stroke="#111" stroke-width="0.85"/>
<path d="M976.6 63.099999999999994 A44.2 44.2 0 0 0 976.6 151.5 Z" fill="url(#lg)" stroke="#111" stroke-width="0.85"/>
</g>
<g font-size="20.5" fill="#26262c" style="filter:grayscale(1)">
<text x="980.6" y="63" textLength="24.9" lengthAdjust="spacingAndGlyphs">UP</text>
<text x="1048.3" y="63" textLength="76.5" lengthAdjust="spacingAndGlyphs">at 24 hrs</text>
<text x="980.6" y="89.8" textLength="24.9" lengthAdjust="spacingAndGlyphs">UP</text>
<text x="1048.3" y="89.8" textLength="76.5" lengthAdjust="spacingAndGlyphs">at 12 hrs</text>
<text x="980.6" y="141.5" textLength="144.2" lengthAdjust="spacingAndGlyphs">DOWN at 12 hrs</text>
<text x="980.6" y="168.6" textLength="144.2" lengthAdjust="spacingAndGlyphs">DOWN at 24 hrs</text>
</g>
<g font-size="22.5" fill="#0a0a0a" style="filter:grayscale(1)">
<text x="57.4" y="51.3" textLength="72.7" lengthAdjust="spacingAndGlyphs">Protein</text>
<text x="56.1" y="79.8" textLength="75.6" lengthAdjust="spacingAndGlyphs">Folding</text>
<text x="225.4" y="53" textLength="110.5" lengthAdjust="spacingAndGlyphs">Translation</text>
<text x="404.9" y="53.6" textLength="151.4" lengthAdjust="spacingAndGlyphs">Protein Sorting</text>
<text x="642.9" y="79.1" textLength="86.4" lengthAdjust="spacingAndGlyphs">Cofactor</text>
<text x="626.4" y="108" textLength="119.0" lengthAdjust="spacingAndGlyphs">Metabolism</text>
<text x="406.5" y="202.8" textLength="144.8" lengthAdjust="spacingAndGlyphs">RNA Transport</text>
<text x="204.9" y="383.9" textLength="110.2" lengthAdjust="spacingAndGlyphs">Nucleotide</text>
<text x="200.6" y="413.1" textLength="118.6" lengthAdjust="spacingAndGlyphs">Metabolism</text>
<text x="220.4" y="479.5" textLength="50.5" lengthAdjust="spacingAndGlyphs">rRNA</text>
<text x="192.2" y="508" textLength="107.5" lengthAdjust="spacingAndGlyphs">Processing</text>
<text x="36.0" y="588.4" textLength="80.4" lengthAdjust="spacingAndGlyphs">Splicing</text>
<text x="262.8" y="895" textLength="50.4" lengthAdjust="spacingAndGlyphs">tRNA</text>
<text x="234.6" y="923.7" textLength="107.1" lengthAdjust="spacingAndGlyphs">Processing</text>
<text x="452.1" y="865" textLength="131.1" lengthAdjust="spacingAndGlyphs">Transcription</text>
<text x="807.1" y="887" textLength="213.6" lengthAdjust="spacingAndGlyphs">Ubiquitin-dependent</text>
<text x="812.1" y="915.7" textLength="203.1" lengthAdjust="spacingAndGlyphs">Protein Degradation</text>
<text x="1037.8" y="534.5" textLength="122.8" lengthAdjust="spacingAndGlyphs">Microtubule</text>
<text x="1033.3" y="563.7" textLength="131.3" lengthAdjust="spacingAndGlyphs">Cytoskeleton</text>
<text x="644.3" y="282" textLength="68.9" lengthAdjust="spacingAndGlyphs">MHC-II</text>
<text x="633.5" y="310.8" textLength="91.5" lengthAdjust="spacingAndGlyphs">Receptor</text>
<text x="800.8" y="285.6" textLength="52.7" lengthAdjust="spacingAndGlyphs">Tight</text>
<text x="778.5" y="314.4" textLength="96.9" lengthAdjust="spacingAndGlyphs">Junctions</text>
<text x="969.9" y="282" textLength="50.2" lengthAdjust="spacingAndGlyphs">Lipid</text>
<text x="947.6" y="310.8" textLength="95.1" lengthAdjust="spacingAndGlyphs">Transport</text>
<text x="647.9" y="481.2" textLength="169.8" lengthAdjust="spacingAndGlyphs">DNA Metabolism</text>
<text x="879.3" y="617.9" textLength="95.4" lengthAdjust="spacingAndGlyphs">Cell Cycle</text>
</g>
</svg></body></html>
